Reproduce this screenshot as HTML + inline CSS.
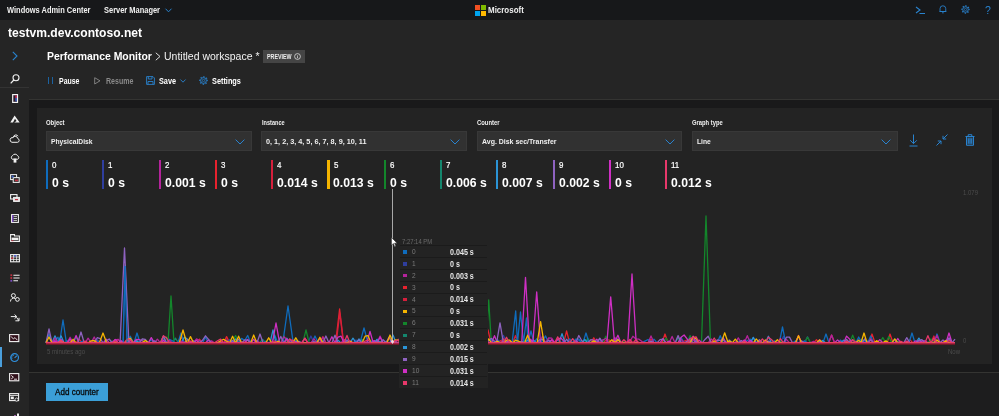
<!DOCTYPE html>
<html><head><meta charset="utf-8"><title>Windows Admin Center</title>
<style>
html,body{margin:0;padding:0;}
body{width:999px;height:416px;overflow:hidden;background:#252525;font-family:"Liberation Sans",sans-serif;position:relative;}
.t{position:absolute;white-space:nowrap;line-height:1;transform-origin:0 0;}
.b{position:absolute;}
svg{position:absolute;overflow:visible;}
#wrap{position:absolute;left:0;top:0;width:999px;height:416px;will-change:transform;filter:blur(0.32px);}
</style></head><body><div id="wrap">

<div class="b" style="left:-6px;top:-6px;width:1011px;height:428px;background:#252525"></div>
<div class="b" style="left:-6px;top:-6px;width:1011px;height:26px;background:#17181a"></div>
<div class="b" style="left:29px;top:99px;width:976px;height:1px;background:#343432"></div>
<div class="b" style="left:29px;top:100px;width:976px;height:322px;background:#19191a"></div>
<div class="b" style="left:37px;top:108.3px;width:955px;height:255.5px;background:#232323"></div>
<div class="b" style="left:29px;top:372.4px;width:976px;height:1px;background:#343432"></div>
<div class="b" style="left:29px;top:373.4px;width:976px;height:49px;background:#1d1d1e"></div>
<div class="b" style="left:-6px;top:86.5px;width:35px;height:1px;background:#333"></div>
<span class="t" style="left:7.00px;top:6.00px;font-size:8.5px;font-weight:700;color:#f0f0f0;transform:scaleX(0.8790);">Windows Admin Center</span>
<span class="t" style="left:104.00px;top:6.00px;font-size:8.5px;font-weight:700;color:#f0f0f0;transform:scaleX(0.8780);">Server Manager</span>
<svg style="left:165px;top:8px" width="7" height="5" viewBox="0 0 7 5"><path d="M0.5 0.7 L3.5 3.8 L6.5 0.7" fill="none" stroke="#2983cf" stroke-width="1"/></svg>
<div class="b" style="left:475px;top:5px;width:5.1px;height:5.1px;background:#f25022"></div>
<div class="b" style="left:480.9px;top:5px;width:5.1px;height:5.1px;background:#7fba00"></div>
<div class="b" style="left:475px;top:10.8px;width:5.1px;height:5.1px;background:#00a4ef"></div>
<div class="b" style="left:480.9px;top:10.8px;width:5.1px;height:5.1px;background:#ffb900"></div>
<span class="t" style="left:488.20px;top:5.88px;font-size:9px;font-weight:700;color:#f0f0f0;transform:scaleX(0.8839);">Microsoft</span>
<svg style="left:915px;top:6px" width="11" height="9" viewBox="0 0 11 9"><path d="M1 1 L5 4 L1 7 M4.5 7.5 H10" fill="none" stroke="#2983cf" stroke-width="1.1"/></svg>
<svg style="left:939.3px;top:5.3px" width="7.8" height="8.7" viewBox="0 0 9 10"><path d="M1.2 7.5 V4.2 A3.3 3.3 0 0 1 7.8 4.2 V7.5 Z M0.5 7.5 H8.5 M3.5 9 H5.5" fill="none" stroke="#2983cf" stroke-width="1"/></svg>
<svg style="left:961.4px;top:5px" width="9" height="9" viewBox="0 0 10 10"><circle cx="5" cy="5" r="4.08" fill="none" stroke="#2983cf" stroke-width="1.05" stroke-dasharray="1.539 1.667" transform="rotate(-11 5 5)"/><circle cx="5" cy="5" r="3.09" fill="none" stroke="#2983cf" stroke-width="1.05"/><circle cx="5" cy="5" r="1.26" fill="none" stroke="#2983cf" stroke-width="0.78"/></svg>
<span class="t" style="left:985.00px;top:4.91px;font-size:10.5px;font-weight:400;color:#2983cf;transform:scaleX(1.0000);">?</span>
<span class="t" style="left:8.30px;top:26.64px;font-size:12px;font-weight:700;color:#fff;transform:scaleX(1.0065);">testvm.dev.contoso.net</span>
<svg style="left:12px;top:51px" width="6" height="10" viewBox="0 0 6 10"><path d="M0.8 0.8 L5 5 L0.8 9.2" fill="none" stroke="#2983cf" stroke-width="1.1"/></svg>
<span class="t" style="left:46.50px;top:52.14px;font-size:10px;font-weight:700;color:#fff;transform:scaleX(1.0430);">Performance Monitor</span>
<svg style="left:155px;top:52px" width="6" height="9" viewBox="0 0 6 9"><path d="M0.8 0.8 L5 4.5 L0.8 8.2" fill="none" stroke="#ddd" stroke-width="1"/></svg>
<span class="t" style="left:163.50px;top:52.14px;font-size:10px;font-weight:400;color:#f2f2f2;transform:scaleX(1.0477);">Untitled workspace *</span>
<div class="b" style="left:263px;top:50px;width:42px;height:13px;background:#454545"></div>
<span class="t" style="left:267.40px;top:53.64px;font-size:6.8px;font-weight:700;color:#eee;transform:scaleX(0.7844);">PREVIEW</span>
<svg style="left:294px;top:53px" width="7" height="7" viewBox="0 0 7 7"><circle cx="3.5" cy="3.5" r="2.9" fill="none" stroke="#ddd" stroke-width="0.8"/><path d="M3.5 2 V2.6 M3.5 3.2 V5.2" stroke="#ddd" stroke-width="0.8"/></svg>
<div class="b" style="left:48.3px;top:77px;width:1.1px;height:7px;background:#1c62a0"></div>
<div class="b" style="left:51.5px;top:77px;width:1.1px;height:7px;background:#1c62a0"></div>
<span class="t" style="left:58.50px;top:76.89px;font-size:8.4px;font-weight:700;color:#fff;transform:scaleX(0.8283);">Pause</span>
<svg style="left:94px;top:77px" width="7" height="8" viewBox="0 0 7 8"><path d="M0.7 0.7 L6 3.8 L0.7 7 Z" fill="none" stroke="#888" stroke-width="0.9"/></svg>
<span class="t" style="left:105.50px;top:76.89px;font-size:8.4px;font-weight:700;color:#8a8a8a;transform:scaleX(0.8414);">Resume</span>
<svg style="left:146px;top:76px" width="9" height="9" viewBox="0 0 9 9"><path d="M0.6 0.6 H7 L8.4 2 V8.4 H0.6 Z M2.3 0.6 V3 H6 V0.6 M2 8.4 V5.5 H7 V8.4" fill="none" stroke="#2983cf" stroke-width="0.9"/></svg>
<span class="t" style="left:158.70px;top:76.89px;font-size:8.4px;font-weight:700;color:#fff;transform:scaleX(0.8716);">Save</span>
<svg style="left:180px;top:79px" width="6" height="4" viewBox="0 0 6 4"><path d="M0.4 0.5 L3 3.2 L5.6 0.5" fill="none" stroke="#2983cf" stroke-width="0.9"/></svg>
<svg style="left:199px;top:75.8px" width="9" height="9" viewBox="0 0 9 9"><circle cx="4.5" cy="4.5" r="3.81" fill="none" stroke="#2983cf" stroke-width="0.98" stroke-dasharray="1.436 1.556" transform="rotate(-11 4.5 4.5)"/><circle cx="4.5" cy="4.5" r="2.88" fill="none" stroke="#2983cf" stroke-width="0.98"/><circle cx="4.5" cy="4.5" r="1.17" fill="none" stroke="#2983cf" stroke-width="0.73"/></svg>
<span class="t" style="left:211.80px;top:76.89px;font-size:8.4px;font-weight:700;color:#fff;transform:scaleX(0.8751);">Settings</span>
<div class="b" style="left:46px;top:131.2px;width:206px;height:20px;background:#313131;box-sizing:border-box;border:1px solid #383838"></div>
<span class="t" style="left:46.00px;top:119.37px;font-size:7px;font-weight:700;color:#f0f0f0;transform:scaleX(0.8493);">Object</span>
<span class="t" style="left:51.00px;top:137.53px;font-size:8px;font-weight:700;color:#f0f0f0;transform:scaleX(0.8407);">PhysicalDisk</span>
<svg style="left:235px;top:139px" width="10" height="6" viewBox="0 0 10 6"><path d="M0.6 0.6 L5 5 L9.4 0.6" fill="none" stroke="#2983cf" stroke-width="1"/></svg>
<div class="b" style="left:261px;top:131.2px;width:206px;height:20px;background:#313131;box-sizing:border-box;border:1px solid #383838"></div>
<span class="t" style="left:261.80px;top:119.37px;font-size:7px;font-weight:700;color:#f0f0f0;transform:scaleX(0.7958);">Instance</span>
<span class="t" style="left:266.00px;top:137.53px;font-size:8px;font-weight:700;color:#f0f0f0;transform:scaleX(0.9075);">0, 1, 2, 3, 4, 5, 6, 7, 8, 9, 10, 11</span>
<svg style="left:450px;top:139px" width="10" height="6" viewBox="0 0 10 6"><path d="M0.6 0.6 L5 5 L9.4 0.6" fill="none" stroke="#2983cf" stroke-width="1"/></svg>
<div class="b" style="left:477px;top:131.2px;width:205px;height:20px;background:#313131;box-sizing:border-box;border:1px solid #383838"></div>
<span class="t" style="left:477.00px;top:119.37px;font-size:7px;font-weight:700;color:#f0f0f0;transform:scaleX(0.8386);">Counter</span>
<span class="t" style="left:481.70px;top:137.53px;font-size:8px;font-weight:700;color:#f0f0f0;transform:scaleX(0.8711);">Avg. Disk sec/Transfer</span>
<svg style="left:665px;top:139px" width="10" height="6" viewBox="0 0 10 6"><path d="M0.6 0.6 L5 5 L9.4 0.6" fill="none" stroke="#2983cf" stroke-width="1"/></svg>
<div class="b" style="left:692px;top:131.2px;width:206px;height:20px;background:#313131;box-sizing:border-box;border:1px solid #383838"></div>
<span class="t" style="left:692.30px;top:119.37px;font-size:7px;font-weight:700;color:#f0f0f0;transform:scaleX(0.8308);">Graph type</span>
<span class="t" style="left:697.20px;top:137.53px;font-size:8px;font-weight:700;color:#f0f0f0;transform:scaleX(0.8391);">Line</span>
<svg style="left:881px;top:139px" width="10" height="6" viewBox="0 0 10 6"><path d="M0.6 0.6 L5 5 L9.4 0.6" fill="none" stroke="#2983cf" stroke-width="1"/></svg>
<svg style="left:909px;top:134px" width="9" height="13" viewBox="0 0 9 13"><path d="M4.5 0.5 V9.5 M1.2 6.3 L4.5 9.6 L7.8 6.3 M0.5 12 H8.5" fill="none" stroke="#2983cf" stroke-width="1"/></svg>
<svg style="left:936px;top:134px" width="12" height="12" viewBox="0 0 12 12"><path d="M11.5 0.5 L7 5 M7 1.8 V5 H10.2 M0.5 11.5 L5 7 M1.8 7 H5 V10.2" fill="none" stroke="#2983cf" stroke-width="1"/></svg>
<svg style="left:965px;top:134px" width="10" height="12" viewBox="0 0 10 12"><path d="M0.5 2.5 H9.5 M3.2 2.3 V0.7 H6.8 V2.3 M1.5 2.5 V11.3 H8.5 V2.5 M3.8 4.5 V9.5 M6.2 4.5 V9.5" fill="none" stroke="#2983cf" stroke-width="1"/><rect x="2.3" y="3.5" width="5.4" height="7" fill="#2983cf" opacity="0.55"/></svg>
<div class="b" style="left:46.00px;top:160px;width:2.2px;height:28.5px;background:#0f6cbd"></div>
<span class="t" style="left:52.20px;top:162.26px;font-size:8.2px;font-weight:400;color:#fff;transform:scaleX(0.9700);-webkit-text-stroke:0.2px #fff;">0</span>
<span class="t" style="left:52.00px;top:176.62px;font-size:12.5px;font-weight:700;color:#fff;transform:scaleX(0.9750);">0 s</span>
<div class="b" style="left:102.28px;top:160px;width:2.2px;height:28.5px;background:#2f3e9e"></div>
<span class="t" style="left:108.48px;top:162.26px;font-size:8.2px;font-weight:400;color:#fff;transform:scaleX(0.9700);-webkit-text-stroke:0.2px #fff;">1</span>
<span class="t" style="left:108.28px;top:176.62px;font-size:12.5px;font-weight:700;color:#fff;transform:scaleX(0.9750);">0 s</span>
<div class="b" style="left:158.56px;top:160px;width:2.2px;height:28.5px;background:#b4239b"></div>
<span class="t" style="left:164.76px;top:162.26px;font-size:8.2px;font-weight:400;color:#fff;transform:scaleX(0.9700);-webkit-text-stroke:0.2px #fff;">2</span>
<span class="t" style="left:164.56px;top:176.62px;font-size:12.5px;font-weight:700;color:#fff;transform:scaleX(0.9750);">0.001 s</span>
<div class="b" style="left:214.84px;top:160px;width:2.2px;height:28.5px;background:#e8222e"></div>
<span class="t" style="left:221.04px;top:162.26px;font-size:8.2px;font-weight:400;color:#fff;transform:scaleX(0.9700);-webkit-text-stroke:0.2px #fff;">3</span>
<span class="t" style="left:220.84px;top:176.62px;font-size:12.5px;font-weight:700;color:#fff;transform:scaleX(0.9750);">0 s</span>
<div class="b" style="left:271.12px;top:160px;width:2.2px;height:28.5px;background:#d61f3c"></div>
<span class="t" style="left:277.32px;top:162.26px;font-size:8.2px;font-weight:400;color:#fff;transform:scaleX(0.9700);-webkit-text-stroke:0.2px #fff;">4</span>
<span class="t" style="left:277.12px;top:176.62px;font-size:12.5px;font-weight:700;color:#fff;transform:scaleX(0.9750);">0.014 s</span>
<div class="b" style="left:327.40px;top:160px;width:2.2px;height:28.5px;background:#f5b400"></div>
<span class="t" style="left:333.60px;top:162.26px;font-size:8.2px;font-weight:400;color:#fff;transform:scaleX(0.9700);-webkit-text-stroke:0.2px #fff;">5</span>
<span class="t" style="left:333.40px;top:176.62px;font-size:12.5px;font-weight:700;color:#fff;transform:scaleX(0.9750);">0.013 s</span>
<div class="b" style="left:383.68px;top:160px;width:2.2px;height:28.5px;background:#13862b"></div>
<span class="t" style="left:389.88px;top:162.26px;font-size:8.2px;font-weight:400;color:#fff;transform:scaleX(0.9700);-webkit-text-stroke:0.2px #fff;">6</span>
<span class="t" style="left:389.68px;top:176.62px;font-size:12.5px;font-weight:700;color:#fff;transform:scaleX(0.9750);">0 s</span>
<div class="b" style="left:439.96px;top:160px;width:2.2px;height:28.5px;background:#14866d"></div>
<span class="t" style="left:446.16px;top:162.26px;font-size:8.2px;font-weight:400;color:#fff;transform:scaleX(0.9700);-webkit-text-stroke:0.2px #fff;">7</span>
<span class="t" style="left:445.96px;top:176.62px;font-size:12.5px;font-weight:700;color:#fff;transform:scaleX(0.9750);">0.006 s</span>
<div class="b" style="left:496.24px;top:160px;width:2.2px;height:28.5px;background:#2b94d6"></div>
<span class="t" style="left:502.44px;top:162.26px;font-size:8.2px;font-weight:400;color:#fff;transform:scaleX(0.9700);-webkit-text-stroke:0.2px #fff;">8</span>
<span class="t" style="left:502.24px;top:176.62px;font-size:12.5px;font-weight:700;color:#fff;transform:scaleX(0.9750);">0.007 s</span>
<div class="b" style="left:552.52px;top:160px;width:2.2px;height:28.5px;background:#8e62c0"></div>
<span class="t" style="left:558.72px;top:162.26px;font-size:8.2px;font-weight:400;color:#fff;transform:scaleX(0.9700);-webkit-text-stroke:0.2px #fff;">9</span>
<span class="t" style="left:558.52px;top:176.62px;font-size:12.5px;font-weight:700;color:#fff;transform:scaleX(0.9750);">0.002 s</span>
<div class="b" style="left:608.80px;top:160px;width:2.2px;height:28.5px;background:#cf2fc4"></div>
<span class="t" style="left:615.00px;top:162.26px;font-size:8.2px;font-weight:400;color:#fff;transform:scaleX(0.9700);-webkit-text-stroke:0.2px #fff;">10</span>
<span class="t" style="left:614.80px;top:176.62px;font-size:12.5px;font-weight:700;color:#fff;transform:scaleX(0.9750);">0 s</span>
<div class="b" style="left:665.08px;top:160px;width:2.2px;height:28.5px;background:#e8386b"></div>
<span class="t" style="left:671.28px;top:162.26px;font-size:8.2px;font-weight:400;color:#fff;transform:scaleX(0.9700);-webkit-text-stroke:0.2px #fff;">11</span>
<span class="t" style="left:671.08px;top:176.62px;font-size:12.5px;font-weight:700;color:#fff;transform:scaleX(0.9750);">0.012 s</span>
<svg style="left:0;top:0" width="999" height="416" viewBox="0 0 999 416"><defs><clipPath id="cp"><rect x="40" y="180" width="920" height="162.9"/></clipPath></defs><g clip-path="url(#cp)">
<polyline points="46.0,342.8 49.0,343.0 52.0,343.0 55.0,343.0 58.0,342.9 61.0,342.8 64.1,342.9 67.1,342.9 70.1,342.9 73.1,342.9 76.1,343.0 79.1,342.8 82.1,342.9 85.1,342.9 88.1,342.9 91.1,342.8 94.2,343.0 97.2,339.6 100.2,342.9 103.2,343.0 106.2,342.8 109.2,342.8 112.2,342.9 115.2,343.0 118.2,342.8 121.2,342.8 124.3,342.8 127.3,342.9 130.3,339.4 133.3,342.8 136.3,342.9 139.3,342.9 142.3,342.8 145.3,343.0 148.3,342.9 151.3,342.9 154.4,343.0 157.4,342.9 160.4,342.8 163.4,342.9 166.4,342.9 169.4,342.8 172.4,343.0 175.4,342.8 178.4,342.9 181.4,342.8 184.5,343.0 187.5,342.9 190.5,343.0 193.5,342.8 196.5,342.9 199.5,342.9 202.5,342.9 205.5,342.8 208.5,342.8 211.5,343.0 214.6,342.9 217.6,342.8 220.6,342.9 223.6,342.8 226.6,343.0 229.6,342.9 232.6,342.8 235.6,342.8 238.6,342.9 241.6,342.8 244.7,343.0 247.7,342.9 250.7,342.9 253.7,343.0 256.7,342.9 259.7,343.0 262.7,342.9 265.7,342.8 268.7,342.9 271.7,342.9 274.8,342.8 277.8,342.9 280.8,343.0 283.8,342.8 286.8,343.0 289.8,341.3 292.8,342.9 295.8,342.8 298.8,342.9 301.8,342.8 304.9,342.8 307.9,342.9 310.9,336.0 313.9,342.8 316.9,343.0 319.9,342.9 322.9,342.8 325.9,342.9 328.9,342.9 331.9,343.0 335.0,342.8 338.0,342.8 341.0,342.9 344.0,342.9 347.0,343.0 350.0,342.8 353.0,343.0 356.0,340.0 359.0,342.8 362.0,342.8 365.1,343.0 368.1,342.9 371.1,342.9 374.1,342.9 377.1,342.8 380.1,342.8 383.1,343.0 386.1,342.9 389.1,342.9 392.1,343.0 395.2,342.9 398.2,342.8 401.2,342.9 404.2,342.8 407.2,342.9 410.2,342.8 413.2,343.0 416.2,342.8 419.2,342.8 422.2,340.7 425.3,343.0 428.3,342.9 431.3,342.9 434.3,342.9 437.3,342.8 440.3,343.0 443.3,342.8 446.3,342.9 449.3,342.9 452.3,342.9 455.4,342.9 458.4,337.7 461.4,343.0 464.4,342.9 467.4,342.9 470.4,343.0 473.4,342.9 476.4,343.0 479.4,342.8 482.4,342.9 485.5,342.8 488.5,342.9 491.5,342.9 494.5,342.8 497.5,343.0 500.5,342.9 503.5,335.4 506.5,342.8 509.5,342.8 512.5,343.0 515.5,340.0 518.6,342.8 521.6,342.8 524.6,342.9 527.6,342.9 530.6,342.8 533.6,342.9 536.6,342.8 539.6,343.0 542.6,342.8 545.6,343.0 548.7,342.9 551.7,342.8 554.7,343.0 557.7,342.9 560.7,342.8 563.7,343.0 566.7,342.9 569.7,342.9 572.7,342.9 575.7,342.8 578.8,340.0 581.8,343.0 584.8,343.0 587.8,342.9 590.8,342.9 593.8,342.9 596.8,342.8 599.8,342.9 602.8,339.8 605.8,342.9 608.9,342.8 611.9,343.0 614.9,343.0 617.9,342.9 620.9,342.9 623.9,343.0 626.9,343.0 629.9,342.8 632.9,343.0 635.9,342.9 639.0,343.0 642.0,342.8 645.0,342.8 648.0,342.8 651.0,342.8 654.0,343.0 657.0,342.8 660.0,342.9 663.0,343.0 666.0,342.9 669.1,343.0 672.1,342.8 675.1,342.9 678.1,342.9 681.1,341.0 684.1,342.8 687.1,342.8 690.1,342.8 693.1,342.9 696.1,342.9 699.2,342.9 702.2,342.8 705.2,342.8 708.2,342.9 711.2,342.9 714.2,342.9 717.2,342.8 720.2,343.0 723.2,343.0 726.2,342.9 729.3,342.8 732.3,342.8 735.3,343.0 738.3,341.1 741.3,342.9 744.3,342.8 747.3,342.9 750.3,343.0 753.3,337.6 756.3,342.9 759.4,342.9 762.4,342.9 765.4,342.9 768.4,342.8 771.4,343.0 774.4,342.8 777.4,342.8 780.4,342.9 783.4,336.4 786.4,342.9 789.5,342.9 792.5,342.8 795.5,342.8 798.5,342.9 801.5,342.9 804.5,342.8 807.5,336.8 810.5,343.0 813.5,342.8 816.5,342.8 819.6,343.0 822.6,342.9 825.6,342.8 828.6,342.8 831.6,335.6 834.6,342.9 837.6,342.9 840.6,343.0 843.6,343.0 846.6,342.8 849.7,342.8 852.7,342.9 855.7,342.9 858.7,342.9 861.7,342.8 864.7,342.9 867.7,343.0 870.7,342.9 873.7,342.8 876.7,342.9 879.8,342.9 882.8,342.8 885.8,342.8 888.8,342.8 891.8,342.8 894.8,342.8 897.8,342.8 900.8,342.9 903.8,342.8 906.8,342.8 909.9,343.0 912.9,342.8 915.9,343.0 918.9,341.4 921.9,342.8 924.9,342.8 927.9,342.9 930.9,342.8 933.9,342.8 936.9,342.8 940.0,342.8 943.0,342.9 946.0,343.0 949.0,342.8 952.0,342.8 955.0,342.9" fill="none" stroke="#2f3e9e" stroke-width="1.3" stroke-linejoin="round"/>
<polyline points="46.0,342.8 49.0,343.0 52.0,342.8 55.0,343.0 58.0,342.9 61.0,342.9 64.1,342.8 67.1,342.8 70.1,342.9 73.1,342.8 76.1,337.1 79.1,342.8 82.1,343.0 85.1,342.8 88.1,342.9 91.1,342.9 94.2,342.8 97.2,342.9 100.2,342.9 103.2,342.8 106.2,342.9 109.2,342.9 112.2,341.1 115.2,342.9 118.2,342.9 121.2,342.9 124.3,342.8 127.3,343.0 130.3,343.0 133.3,343.0 136.3,342.8 139.3,342.8 142.3,342.8 145.3,342.8 148.3,342.8 151.3,342.9 154.4,342.8 157.4,342.8 160.4,343.0 163.4,336.9 166.4,342.9 169.4,341.5 172.4,342.8 175.4,338.1 178.4,342.8 181.4,343.0 184.5,342.8 187.5,343.0 190.5,342.9 193.5,342.9 196.5,342.9 199.5,341.3 202.5,343.0 205.5,342.8 208.5,342.8 211.5,342.9 214.6,343.0 217.6,342.9 220.6,341.1 223.6,342.9 226.6,342.9 229.6,342.8 232.6,342.9 235.6,342.8 238.6,342.8 241.6,343.0 244.7,342.9 247.7,343.0 250.7,343.0 253.7,342.9 256.7,342.9 259.7,342.8 262.7,339.5 265.7,342.9 268.7,342.8 271.7,342.8 274.8,342.9 277.8,342.9 280.8,342.9 283.8,342.8 286.8,342.8 289.8,342.9 292.8,342.8 295.8,339.9 298.8,343.0 301.8,343.0 304.9,342.8 307.9,343.0 310.9,342.9 313.9,342.9 316.9,342.9 319.9,343.0 322.9,340.5 325.9,342.9 328.9,342.9 331.9,342.9 335.0,342.8 338.0,342.9 341.0,342.8 344.0,343.0 347.0,342.8 350.0,343.0 353.0,342.8 356.0,342.9 359.0,342.9 362.0,339.5 365.1,342.9 368.1,342.9 371.1,342.8 374.1,340.7 377.1,343.0 380.1,343.0 383.1,342.9 386.1,343.0 389.1,342.8 392.1,342.9 395.2,342.9 398.2,343.0 401.2,342.8 404.2,342.8 407.2,342.8 410.2,342.9 413.2,342.8 416.2,343.0 419.2,342.8 422.2,342.8 425.3,342.9 428.3,342.9 431.3,343.0 434.3,342.9 437.3,342.8 440.3,343.0 443.3,342.8 446.3,342.9 449.3,335.9 452.3,342.8 455.4,342.9 458.4,342.8 461.4,342.9 464.4,342.9 467.4,343.0 470.4,342.8 473.4,342.8 476.4,342.8 479.4,342.8 482.4,342.8 485.5,342.8 488.5,342.9 491.5,342.9 494.5,343.0 497.5,342.9 500.5,342.9 503.5,342.8 506.5,343.0 509.5,342.8 512.5,342.8 515.5,339.2 518.6,342.9 521.6,342.8 524.6,342.8 527.6,342.9 530.6,343.0 533.6,343.0 536.6,342.9 539.6,341.3 542.6,343.0 545.6,342.9 548.7,342.8 551.7,342.8 554.7,342.9 557.7,342.8 560.7,342.8 563.7,343.0 566.7,342.8 569.7,342.9 572.7,342.8 575.7,342.9 578.8,342.9 581.8,342.8 584.8,342.8 587.8,339.9 590.8,342.8 593.8,343.0 596.8,342.8 599.8,342.9 602.8,342.8 605.8,342.9 608.9,342.8 611.9,342.9 614.9,342.8 617.9,342.9 620.9,342.8 623.9,342.9 626.9,342.8 629.9,342.8 632.9,342.9 635.9,343.0 639.0,342.9 642.0,342.8 645.0,342.8 648.0,343.0 651.0,342.8 654.0,342.8 657.0,342.8 660.0,343.0 663.0,342.8 666.0,342.8 669.1,342.9 672.1,342.9 675.1,343.0 678.1,337.6 681.1,342.8 684.1,342.9 687.1,343.0 690.1,342.8 693.1,342.9 696.1,342.8 699.2,342.8 702.2,342.8 705.2,343.0 708.2,342.9 711.2,343.0 714.2,342.8 717.2,342.9 720.2,342.8 723.2,342.8 726.2,343.0 729.3,342.9 732.3,342.9 735.3,342.9 738.3,343.0 741.3,342.9 744.3,342.9 747.3,342.8 750.3,342.8 753.3,343.0 756.3,343.0 759.4,343.0 762.4,342.8 765.4,342.9 768.4,342.9 771.4,342.9 774.4,342.8 777.4,343.0 780.4,342.8 783.4,342.8 786.4,342.9 789.5,342.9 792.5,342.8 795.5,342.8 798.5,342.9 801.5,342.8 804.5,342.8 807.5,342.8 810.5,342.9 813.5,343.0 816.5,342.8 819.6,340.6 822.6,342.9 825.6,342.8 828.6,342.9 831.6,342.8 834.6,342.9 837.6,342.8 840.6,342.9 843.6,342.9 846.6,342.8 849.7,342.9 852.7,342.8 855.7,342.8 858.7,341.0 861.7,339.3 864.7,342.9 867.7,340.8 870.7,342.8 873.7,342.8 876.7,342.8 879.8,342.8 882.8,343.0 885.8,342.8 888.8,343.0 891.8,342.8 894.8,342.8 897.8,341.3 900.8,343.0 903.8,342.8 906.8,343.0 909.9,342.8 912.9,342.8 915.9,342.8 918.9,342.9 921.9,342.9 924.9,342.8 927.9,343.0 930.9,343.0 933.9,342.8 936.9,340.1 940.0,343.0 943.0,342.8 946.0,342.9 949.0,342.8 952.0,342.9 955.0,342.8" fill="none" stroke="#14866d" stroke-width="1.3" stroke-linejoin="round"/>
<polyline points="46.0,342.9 49.0,343.0 52.0,343.0 55.0,342.9 58.0,342.8 61.0,342.9 64.1,342.9 67.1,342.9 70.1,342.9 73.1,342.8 76.1,342.8 79.1,339.1 82.1,342.9 85.1,342.9 88.1,342.9 91.1,342.8 94.2,342.8 97.2,342.9 100.2,343.0 103.2,342.9 106.2,343.0 109.2,342.9 112.2,343.0 115.2,342.9 118.2,342.9 121.2,342.9 124.3,343.0 127.3,342.8 130.3,343.0 133.3,343.0 136.3,342.9 139.3,342.9 142.3,342.8 145.3,342.9 148.3,343.0 151.3,342.9 154.4,343.0 157.4,342.9 160.4,342.8 163.4,343.0 166.4,342.9 169.4,342.9 172.4,342.8 175.4,343.0 178.4,342.9 181.4,336.9 184.5,342.9 187.5,342.8 190.5,342.8 193.5,342.8 196.5,342.8 199.5,339.1 202.5,342.9 205.5,342.9 208.5,343.0 211.5,342.9 214.6,343.0 217.6,342.8 220.6,341.2 223.6,343.0 226.6,336.6 229.6,342.9 232.6,343.0 235.6,342.8 238.6,341.2 241.6,342.9 244.7,343.0 247.7,343.0 250.7,342.8 253.7,342.9 256.7,343.0 259.7,342.8 262.7,342.9 265.7,342.9 268.7,342.8 271.7,342.9 274.8,342.9 277.8,342.8 280.8,342.8 283.8,342.8 286.8,340.1 289.8,342.8 292.8,342.9 295.8,342.9 298.8,343.0 301.8,342.9 304.9,338.4 307.9,342.8 310.9,342.8 313.9,342.8 316.9,343.0 319.9,342.9 322.9,342.9 325.9,342.8 328.9,342.9 331.9,342.9 335.0,342.9 335.6,342.8 339.6,309.0 343.6,342.8 347.0,342.9 350.0,343.0 353.0,343.0 356.0,342.9 359.0,342.9 362.0,342.9 365.1,342.8 368.1,342.8 371.1,342.8 374.1,342.9 377.1,342.9 380.1,342.9 383.1,342.9 386.1,342.9 389.1,337.6 392.1,342.9 395.2,342.9 398.2,342.8 401.2,342.8 404.2,343.0 407.2,342.9 410.2,340.5 413.2,342.8 416.2,342.9 419.2,342.8 422.2,342.9 425.3,342.8 428.3,342.8 431.3,342.9 434.3,342.8 437.3,342.9 440.3,342.8 443.3,343.0 446.3,343.0 449.3,342.9 452.3,342.8 455.4,342.9 458.4,342.8 461.4,342.9 464.4,342.9 467.4,342.9 470.4,342.9 473.4,342.9 476.4,342.8 479.4,342.9 482.4,342.9 485.0,342.8 488.0,330.0 491.0,342.8 494.5,342.8 497.5,342.9 500.5,342.8 503.5,338.8 506.5,342.9 509.5,342.8 512.5,342.8 515.5,342.9 518.6,342.9 521.6,342.9 524.6,342.8 527.6,342.9 530.6,342.9 533.6,342.9 536.6,342.8 539.6,342.9 542.6,342.8 545.6,342.9 548.7,342.8 551.7,342.9 554.7,342.8 557.7,343.0 560.7,342.8 563.6,342.8 566.6,331.0 569.6,342.8 572.7,342.9 575.7,343.0 578.8,342.8 581.8,342.8 584.8,343.0 587.8,342.8 590.8,342.8 593.8,337.8 596.8,342.9 599.8,343.0 602.8,342.9 605.8,342.8 608.9,342.8 611.9,342.9 614.9,343.0 617.9,343.0 620.9,343.0 623.9,342.8 626.9,342.8 629.9,341.5 632.9,342.9 635.9,342.9 639.0,342.9 642.0,342.8 645.0,342.9 648.0,342.9 651.0,339.1 654.0,342.8 657.0,342.8 660.0,343.0 662.0,342.8 665.0,334.0 668.0,342.8 669.1,342.9 672.1,342.8 675.1,342.8 678.1,342.9 681.1,342.9 684.1,342.8 687.1,342.8 690.1,343.0 693.1,343.0 696.1,342.9 699.2,343.0 702.2,342.9 705.2,343.0 708.2,342.8 711.2,342.9 714.2,342.9 717.2,343.0 720.2,342.9 723.2,342.8 726.2,342.9 729.3,343.0 732.3,342.8 735.3,343.0 738.3,342.8 741.3,342.8 744.3,342.8 747.3,342.9 750.3,343.0 753.3,342.9 756.3,342.9 759.4,342.9 762.4,342.9 765.4,343.0 768.4,342.9 771.4,342.8 774.4,342.8 777.4,342.9 780.4,343.0 783.4,342.8 786.4,342.8 789.5,342.9 792.5,342.9 795.5,343.0 798.5,342.9 801.5,342.8 804.5,342.9 807.5,342.8 810.5,342.8 813.5,342.9 816.5,339.7 819.6,342.9 822.6,342.8 825.6,342.9 828.6,342.9 831.6,343.0 834.6,342.8 837.6,342.8 840.6,341.4 843.6,343.0 846.6,342.9 849.7,340.7 852.7,343.0 855.7,342.9 858.7,342.9 861.7,342.8 864.7,343.0 867.7,342.8 869.0,342.8 872.0,334.0 875.0,342.8 876.7,340.8 879.8,342.8 882.8,342.8 885.8,343.0 887.0,342.8 890.0,334.0 893.0,342.8 894.8,343.0 897.8,342.9 900.8,342.8 903.8,342.8 906.8,342.9 909.9,339.6 912.9,342.9 915.9,343.0 918.9,343.0 921.9,342.8 924.9,342.9 927.9,342.8 930.9,342.9 933.9,340.5 936.9,342.9 940.0,343.0 943.0,342.8 946.0,342.9 949.0,342.9 952.0,342.9 955.0,342.8" fill="none" stroke="#e8222e" stroke-width="1.3" stroke-linejoin="round"/>
<polyline points="46.0,342.9 49.0,342.8 52.0,342.8 55.0,342.8 58.0,342.9 61.0,342.8 64.1,342.9 67.1,342.9 70.1,340.7 73.1,342.8 76.1,343.0 79.1,342.9 82.1,343.0 85.1,343.0 88.1,342.8 91.1,342.8 94.2,342.9 97.2,342.9 100.2,343.0 103.2,343.0 106.2,342.8 109.2,342.8 112.2,342.9 115.2,343.0 118.2,339.4 121.2,342.9 124.3,342.8 127.3,342.8 130.3,342.8 133.3,342.8 136.3,343.0 139.3,342.9 142.3,342.9 145.3,342.8 148.3,343.0 151.3,342.8 154.4,342.8 157.4,342.8 160.4,342.9 163.4,342.9 166.4,343.0 169.4,343.0 172.4,342.8 175.4,343.0 178.4,343.0 181.4,343.0 184.5,342.8 187.5,342.9 190.5,342.8 193.5,342.9 196.5,342.9 199.5,342.8 202.5,343.0 205.5,342.9 208.5,342.9 211.5,343.0 214.6,342.9 217.6,342.8 220.6,342.8 223.6,342.8 226.6,343.0 229.6,342.8 232.6,342.9 235.6,342.9 238.6,342.9 241.6,342.8 244.7,341.0 247.7,342.9 250.7,342.8 253.7,342.9 256.7,342.9 259.7,342.9 262.7,343.0 265.7,342.9 268.7,342.8 271.7,343.0 274.8,342.9 277.8,342.9 280.8,342.9 283.8,342.9 286.8,343.0 289.8,343.0 292.8,342.8 295.8,342.8 298.8,343.0 301.8,342.8 304.9,342.8 307.9,343.0 310.9,342.9 313.9,343.0 316.9,343.0 319.9,342.9 322.9,336.6 325.9,342.9 328.9,342.9 331.9,342.8 335.0,342.9 336.2,342.8 339.8,313.0 343.4,342.8 344.0,342.8 347.0,342.8 350.0,342.9 353.0,342.8 356.0,343.0 359.0,343.0 362.0,342.8 365.1,342.8 368.1,342.9 371.1,342.9 374.1,342.9 377.1,343.0 380.1,342.8 383.1,342.9 386.1,342.8 389.1,343.0 392.1,342.9 395.2,342.8 398.2,343.0 401.2,343.0 404.2,342.8 407.2,343.0 410.2,342.8 413.2,342.9 416.2,343.0 419.2,342.9 422.2,342.8 425.3,342.9 428.3,342.8 431.3,343.0 434.3,342.9 437.3,342.9 440.3,342.9 443.3,336.7 446.3,343.0 449.3,342.8 452.3,341.1 455.4,342.9 458.4,342.9 461.4,342.9 464.4,342.8 467.4,343.0 470.4,342.8 473.4,342.8 476.4,342.8 479.4,342.9 482.4,342.8 485.5,342.8 488.5,342.8 491.5,342.9 494.5,342.9 497.5,342.9 500.5,340.6 503.5,342.8 506.5,342.9 509.5,342.9 512.5,343.0 515.5,335.5 518.6,342.9 521.6,342.9 524.6,343.0 527.6,342.9 530.6,342.9 533.6,342.9 536.6,342.9 539.6,343.0 542.6,342.8 545.6,342.8 548.7,342.8 551.7,340.2 554.7,342.9 557.7,343.0 560.7,342.9 563.7,342.9 566.7,342.9 569.7,342.8 572.7,343.0 575.7,342.8 578.8,343.0 581.8,342.8 584.8,343.0 587.8,342.9 590.8,342.8 593.8,342.9 596.8,342.8 599.8,342.9 602.8,342.9 605.8,340.4 608.9,339.8 611.9,342.9 614.9,342.9 617.9,343.0 620.9,342.9 623.9,343.0 626.9,342.8 629.9,343.0 632.9,343.0 635.9,343.0 639.0,342.9 642.0,342.9 645.0,342.8 648.0,342.9 651.0,342.9 654.0,342.8 657.0,342.9 660.0,342.8 663.0,342.9 666.0,342.8 669.1,343.0 672.1,342.8 675.1,342.9 678.1,342.9 681.1,343.0 684.1,341.1 687.1,340.1 690.1,343.0 693.1,342.9 696.1,343.0 699.2,342.8 702.2,343.0 705.2,342.9 708.2,342.9 711.2,342.9 714.2,342.9 717.2,342.8 720.2,342.8 723.2,339.8 726.2,342.8 729.3,340.0 732.3,342.8 735.3,342.8 738.3,342.9 741.3,342.9 744.3,342.9 747.3,342.8 750.3,342.8 753.3,342.9 756.3,342.8 759.4,342.9 762.4,342.8 765.4,342.9 768.4,342.8 771.4,342.8 774.4,342.9 777.4,342.8 780.4,342.8 783.4,342.8 786.4,343.0 789.5,342.8 792.5,343.0 795.5,342.8 798.5,335.4 801.5,342.8 804.5,343.0 807.5,343.0 810.5,342.8 813.5,342.8 816.5,343.0 819.6,342.8 822.6,343.0 825.6,342.9 828.6,343.0 831.6,335.0 834.6,342.8 837.6,342.9 840.6,342.9 843.6,342.8 846.6,342.8 849.7,343.0 852.7,342.9 855.7,342.9 858.7,342.8 861.7,342.8 864.7,343.0 867.7,343.0 870.7,340.1 873.7,342.9 876.7,343.0 879.8,342.8 882.8,342.9 885.8,342.8 888.8,342.8 891.8,342.9 894.8,342.8 897.8,342.9 900.8,343.0 903.8,343.0 906.8,342.8 909.9,342.8 912.9,342.9 915.9,343.0 918.9,342.8 921.9,343.0 924.9,342.9 927.9,342.9 930.9,342.8 933.9,336.0 936.9,342.9 940.0,342.8 943.0,342.8 946.0,342.9 949.0,342.9 952.0,342.8 955.0,342.9" fill="none" stroke="#d61f3c" stroke-width="1.3" stroke-linejoin="round"/>
<polyline points="46.0,342.8 49.0,342.9 52.0,342.9 55.0,342.8 58.0,342.9 61.0,342.8 64.1,342.9 67.1,340.4 70.1,342.8 73.1,342.9 76.1,342.9 79.1,342.8 82.1,342.8 85.1,342.8 88.1,342.9 91.1,342.8 94.2,342.8 97.2,342.8 100.2,342.8 103.2,342.8 106.2,343.0 109.2,342.8 112.2,342.9 115.2,343.0 118.2,342.8 121.2,342.9 124.3,343.0 127.3,342.9 130.3,336.5 133.3,342.9 136.3,340.3 139.3,342.8 142.3,339.3 145.3,342.9 148.3,342.9 151.3,342.9 154.4,342.8 157.4,342.8 160.4,342.9 163.4,339.4 166.4,337.0 168.0,342.8 171.0,296.0 174.0,342.8 175.4,342.9 178.4,342.9 181.4,342.8 184.5,342.8 187.5,342.9 190.5,343.0 193.5,343.0 196.5,342.8 199.5,342.9 202.5,343.0 205.5,342.9 208.5,342.8 211.5,342.9 214.6,342.8 217.6,342.9 220.6,342.8 223.6,342.8 226.6,342.8 229.6,342.8 232.6,340.9 235.6,335.5 238.6,342.8 241.6,342.9 244.7,342.8 247.7,342.9 250.7,341.0 253.7,342.8 256.7,342.9 259.7,343.0 262.7,342.8 265.7,342.8 268.7,342.8 271.7,342.8 274.8,343.0 277.8,342.9 280.8,342.9 283.8,335.4 286.8,342.8 289.8,342.9 292.8,342.9 295.8,342.8 298.8,343.0 301.8,342.9 302.8,342.8 306.0,330.0 309.2,342.8 310.9,343.0 313.9,342.9 316.9,340.6 319.9,342.8 322.9,342.8 325.9,342.9 328.9,342.9 331.9,342.9 335.0,343.0 338.0,342.9 341.0,342.8 344.0,343.0 347.0,343.0 350.0,342.9 353.0,342.8 356.0,342.8 359.0,342.9 362.0,342.8 365.1,343.0 368.1,342.8 371.1,342.9 374.1,342.8 377.1,342.8 380.1,341.2 383.1,342.8 386.1,341.4 389.1,342.8 392.1,342.8 395.2,342.8 398.2,342.9 401.2,343.0 404.2,343.0 407.2,342.8 410.2,342.8 413.2,342.9 416.2,342.8 419.2,342.8 422.2,335.6 425.3,342.8 428.3,342.8 431.3,342.8 434.3,341.4 437.3,342.9 440.3,343.0 443.3,343.0 446.3,342.8 449.3,343.0 452.3,342.9 455.4,343.0 458.4,342.9 461.4,343.0 464.4,342.8 467.4,343.0 470.4,342.9 473.4,343.0 476.4,342.8 479.4,343.0 482.4,341.2 485.5,342.9 486.1,342.8 488.7,300.0 491.3,342.8 494.5,342.8 497.5,342.8 500.5,342.8 503.5,343.0 506.5,342.8 509.5,342.8 512.5,342.8 515.5,342.8 518.6,342.9 521.6,342.9 524.6,340.3 527.6,342.8 530.6,342.8 533.6,342.8 536.6,342.9 539.6,342.9 542.6,338.1 545.6,342.8 548.7,342.8 551.7,342.8 554.7,342.9 557.7,342.8 560.7,342.8 563.7,342.9 566.7,343.0 569.7,342.8 572.7,342.8 575.7,342.8 578.8,342.8 581.8,340.9 584.8,342.8 587.8,338.0 590.8,342.8 593.8,342.9 596.8,342.8 599.8,342.8 602.8,342.9 605.8,336.2 608.9,342.9 611.9,342.8 614.9,342.8 617.9,342.8 620.9,343.0 623.9,341.5 626.9,343.0 629.9,342.9 632.9,342.8 635.9,342.8 639.0,343.0 642.0,342.9 645.0,342.9 648.0,343.0 651.0,342.9 654.0,343.0 657.0,342.9 660.0,342.8 663.0,342.9 666.0,338.2 669.1,343.0 672.1,342.9 675.1,343.0 678.1,343.0 681.1,342.9 684.1,342.9 687.1,343.0 690.1,335.6 693.1,342.8 696.1,342.8 699.2,342.8 701.5,342.8 706.0,216.0 710.5,342.8 711.2,342.9 714.2,342.9 717.2,342.9 720.2,342.9 723.2,342.9 726.2,343.0 729.3,342.8 732.3,343.0 735.3,343.0 738.3,342.8 741.3,341.2 744.3,343.0 747.3,342.9 750.3,343.0 753.3,342.9 756.3,342.9 759.4,340.9 762.4,342.9 765.4,342.8 768.4,343.0 771.4,342.9 774.4,343.0 777.4,342.9 780.4,340.8 783.4,342.9 786.4,343.0 789.5,342.9 792.5,342.8 795.5,343.0 798.5,342.9 801.5,343.0 804.5,342.9 807.5,337.1 810.5,342.9 813.5,342.9 816.5,342.8 819.6,342.8 822.6,342.8 825.6,342.9 828.6,343.0 831.6,342.9 834.6,343.0 837.6,343.0 840.6,343.0 843.6,342.8 846.6,342.8 849.7,342.8 852.7,335.2 855.7,342.9 858.7,342.8 861.7,342.8 864.7,342.9 867.7,342.9 870.7,342.9 873.7,342.8 876.7,342.9 879.8,342.8 882.8,337.5 885.8,342.8 888.8,336.6 891.8,342.9 894.8,342.8 897.8,342.9 900.8,342.8 903.8,343.0 906.8,342.9 909.9,343.0 912.9,343.0 915.9,342.9 918.9,342.8 921.9,342.8 924.9,342.9 927.9,342.9 930.9,339.0 933.9,343.0 936.9,342.9 940.0,342.8 943.0,342.9 946.0,342.8 949.0,342.9 952.0,342.9 955.0,342.9" fill="none" stroke="#13862b" stroke-width="1.3" stroke-linejoin="round"/>
<polyline points="46.0,342.8 49.0,334.0 52.0,342.8 55.0,340.1 58.0,337.3 59.6,342.8 63.0,320.0 66.4,342.8 67.1,340.9 70.1,342.8 73.1,342.9 76.1,343.0 79.1,342.9 82.1,341.2 85.1,342.8 88.1,342.9 91.1,342.9 94.2,343.0 97.2,340.9 100.2,342.9 103.2,342.9 106.2,342.9 109.2,342.8 112.2,342.9 115.2,342.8 118.2,342.9 121.2,343.0 123.1,342.8 125.1,266.0 127.1,342.8 130.3,336.3 133.3,342.9 134.0,342.8 137.0,333.0 140.0,342.8 142.3,342.9 145.3,342.8 148.3,342.8 151.3,339.6 154.4,342.8 157.4,342.9 160.4,342.8 163.4,337.2 166.4,343.0 169.4,339.4 172.4,340.8 175.4,342.8 178.0,342.8 181.0,333.0 184.0,342.8 187.5,342.9 190.5,342.8 193.5,343.0 196.5,342.9 199.5,342.9 202.5,342.9 205.5,337.3 208.5,342.9 211.5,342.8 214.6,342.8 217.6,343.0 220.6,342.8 223.6,342.8 226.6,342.9 229.6,339.8 232.6,341.3 235.6,343.0 238.6,343.0 241.6,338.4 244.7,340.5 247.7,335.5 250.7,343.0 253.7,342.9 256.7,343.0 259.7,342.8 262.7,342.9 265.7,341.2 268.7,342.9 271.7,343.0 274.8,335.2 277.8,343.0 280.8,343.0 282.8,342.8 288.0,306.0 293.2,342.8 295.8,342.8 298.8,342.9 301.8,342.8 304.9,342.8 307.9,342.8 310.9,342.9 312.0,342.8 315.0,336.0 318.0,342.8 319.9,342.8 322.9,342.9 325.9,342.8 328.9,342.9 331.9,342.9 335.0,342.9 338.0,342.8 341.0,342.9 344.0,342.8 347.0,339.7 350.0,342.8 353.0,342.9 356.0,342.8 359.0,342.8 360.0,342.8 364.0,328.0 368.0,342.8 371.1,341.1 374.1,342.8 377.1,339.3 380.1,342.8 383.1,342.9 386.1,341.5 389.1,342.8 392.1,342.8 395.2,342.8 398.2,342.9 401.2,342.9 404.2,342.9 407.2,342.9 410.2,339.0 413.2,342.9 416.2,342.8 419.2,342.8 422.2,342.9 425.3,343.0 428.3,343.0 431.3,335.8 434.3,342.9 437.3,342.9 440.3,342.9 443.3,342.8 446.3,340.0 449.3,342.9 452.3,342.9 455.4,342.8 458.4,342.9 461.4,342.9 464.4,342.8 467.4,342.9 470.4,342.8 473.4,342.8 476.4,342.9 479.4,342.8 482.4,343.0 485.5,340.3 488.5,340.9 491.5,339.7 494.5,342.8 497.5,339.6 500.5,343.0 503.5,342.8 506.5,342.8 509.5,342.9 512.1,342.8 515.7,311.0 517.5,342.8 520.5,312.0 523.5,342.8 526.5,318.0 528.0,342.8 531.0,331.0 534.0,342.8 536.6,338.8 539.6,342.8 542.6,340.8 545.6,335.9 548.7,343.0 551.7,342.8 554.7,342.9 557.7,339.0 560.7,342.8 563.7,341.3 566.7,342.9 569.7,339.0 572.7,342.8 575.7,339.2 578.8,339.2 581.8,342.9 583.0,342.8 586.0,333.0 589.0,342.8 590.8,342.9 593.8,341.1 596.8,341.0 599.8,342.9 602.8,342.9 605.8,343.0 608.9,343.0 611.9,343.0 614.9,342.9 617.9,342.9 620.9,343.0 623.9,342.9 626.9,342.8 629.9,342.9 632.9,342.8 635.9,342.8 639.0,342.8 642.0,342.9 645.0,341.1 648.0,339.5 651.0,343.0 654.0,339.2 657.0,342.8 660.0,342.9 663.0,342.9 666.0,342.9 669.1,342.8 672.1,342.9 675.1,342.8 678.1,342.9 681.1,337.5 684.1,342.9 687.1,342.9 690.1,337.9 693.1,340.4 696.1,338.9 699.2,342.9 702.2,342.9 705.2,342.8 708.2,342.8 711.2,342.9 714.2,343.0 717.2,342.8 720.2,335.7 723.2,342.8 726.2,342.8 729.3,340.1 732.3,342.8 735.3,342.8 738.3,342.8 741.3,342.8 744.3,343.0 747.3,340.5 750.3,339.2 753.3,342.8 756.3,342.8 759.4,343.0 762.4,342.8 765.4,342.9 768.4,343.0 771.4,342.9 774.4,340.8 777.4,342.9 779.3,342.8 782.5,327.0 785.7,342.8 786.4,342.8 789.5,342.8 792.5,343.0 795.5,340.8 798.5,342.9 801.5,343.0 804.5,340.8 807.5,342.8 810.5,342.9 813.5,342.9 816.5,343.0 819.6,343.0 823.0,342.8 826.0,334.0 829.0,342.8 831.6,342.9 834.6,342.8 837.6,342.9 840.6,340.1 843.6,343.0 846.6,342.9 849.7,342.8 852.7,342.8 855.7,343.0 858.7,337.0 861.7,342.9 864.7,340.6 867.7,342.8 870.7,336.0 873.7,343.0 876.7,342.8 879.8,342.9 882.8,342.9 885.8,342.9 888.8,342.9 891.8,343.0 894.8,339.2 897.8,342.8 900.8,342.9 903.8,343.0 906.8,342.8 909.0,342.8 912.0,333.0 915.0,342.8 915.9,342.9 918.9,343.0 921.9,342.9 924.9,342.8 927.9,343.0 930.9,343.0 934.0,342.8 937.0,334.0 940.0,342.8 943.0,342.9 946.0,342.9 949.0,343.0 952.0,342.8 955.0,342.9" fill="none" stroke="#0f6cbd" stroke-width="1.3" stroke-linejoin="round"/>
<polyline points="46.0,342.9 49.0,343.0 52.0,342.8 55.0,335.8 58.0,342.9 61.0,335.8 64.1,342.8 67.1,342.8 70.1,342.8 73.1,342.8 76.1,342.9 79.1,342.9 82.1,342.8 85.1,342.8 88.1,342.8 91.1,342.8 94.2,342.8 97.2,342.8 100.2,342.9 103.2,343.0 106.2,342.8 109.2,342.8 112.2,342.8 115.2,342.9 118.2,343.0 121.2,343.0 124.3,343.0 127.3,342.9 130.3,342.9 133.3,342.8 136.3,340.2 139.3,342.9 142.3,342.9 145.3,342.8 148.3,342.8 151.3,342.9 154.4,342.8 157.4,342.8 160.4,342.8 163.4,343.0 166.4,343.0 169.4,343.0 172.4,342.9 175.4,343.0 178.4,342.9 181.4,342.8 184.5,337.1 187.5,339.2 190.5,343.0 193.5,342.9 196.5,342.8 199.5,342.8 202.5,343.0 205.5,343.0 208.5,342.9 211.5,343.0 214.6,342.9 217.6,342.9 220.6,342.9 223.6,342.8 226.6,342.8 229.6,342.9 232.6,342.9 235.6,339.0 238.6,342.8 241.6,342.9 244.7,342.8 247.7,342.8 250.7,342.8 253.7,342.9 256.7,343.0 259.7,342.9 262.7,342.9 265.7,342.8 268.7,343.0 270.0,342.8 273.0,330.0 276.0,342.8 277.8,342.9 280.8,342.9 283.8,342.9 286.8,338.2 289.8,342.9 292.8,342.9 295.8,342.8 298.8,342.8 301.8,342.9 304.9,342.8 307.9,342.8 310.9,342.8 313.9,342.8 316.9,341.5 319.9,342.9 322.9,343.0 325.9,342.8 328.9,342.8 331.9,342.8 335.0,343.0 338.0,340.3 341.0,342.9 344.0,343.0 347.0,342.8 350.0,342.8 353.0,338.2 356.0,342.8 359.0,339.0 362.0,342.8 365.1,342.9 368.1,342.9 371.1,343.0 374.1,342.8 377.1,339.5 380.1,343.0 383.1,342.8 386.1,342.8 389.1,342.8 390.0,342.8 393.0,335.0 396.0,342.8 398.2,342.8 401.2,343.0 404.2,343.0 407.2,342.8 410.2,342.9 413.2,342.9 416.2,342.9 419.2,338.8 422.2,342.9 425.3,342.9 428.3,342.9 431.3,340.2 434.3,342.9 437.3,342.9 440.3,342.8 443.3,342.9 446.3,342.8 449.3,343.0 452.3,340.6 455.4,339.7 458.4,342.9 461.4,342.8 464.4,343.0 467.4,342.9 470.4,342.8 473.4,343.0 476.4,341.2 479.4,342.8 482.4,342.8 485.5,340.1 488.5,343.0 491.5,342.8 494.5,343.0 497.5,342.9 500.5,343.0 503.5,343.0 506.5,342.9 509.5,343.0 512.5,342.8 515.5,342.9 518.6,342.9 521.6,342.8 524.6,343.0 527.6,340.0 530.6,342.8 533.6,340.1 536.6,343.0 539.6,342.9 542.6,342.9 545.6,342.8 548.7,343.0 551.7,343.0 554.7,342.8 557.7,342.8 559.0,342.8 562.0,333.6 565.0,342.8 566.7,343.0 569.7,342.8 572.7,342.8 575.7,342.8 578.8,342.8 581.8,343.0 584.8,339.5 587.8,342.8 590.8,342.8 593.8,343.0 596.8,342.8 599.8,338.8 602.8,342.8 605.8,342.9 608.9,342.8 611.9,342.9 614.9,342.8 617.9,342.9 620.9,342.9 623.9,342.9 626.9,342.9 629.9,342.9 632.9,342.9 635.9,342.9 639.0,343.0 642.0,342.9 645.0,342.8 648.0,342.9 651.0,342.8 654.0,342.9 657.0,342.9 660.0,342.8 663.0,342.8 666.0,342.9 669.1,342.9 672.1,342.8 675.1,342.9 678.1,342.8 681.1,342.8 684.1,342.8 687.1,343.0 690.1,343.0 693.1,342.9 696.1,342.8 699.2,342.9 702.2,343.0 705.2,342.8 708.2,342.9 711.2,342.9 714.2,342.8 717.2,342.8 720.2,342.9 723.2,342.8 726.2,343.0 729.3,342.8 732.3,342.9 735.3,342.8 738.3,343.0 741.3,342.9 744.3,342.8 747.3,342.9 750.3,342.9 753.3,337.4 756.3,343.0 759.4,342.8 762.4,342.8 765.4,343.0 768.4,336.3 771.4,342.9 774.4,342.8 777.4,342.9 780.4,342.9 783.4,343.0 786.4,342.8 789.5,342.9 792.5,342.9 795.5,342.9 798.5,342.8 801.5,342.8 804.5,342.8 807.5,342.9 810.5,343.0 813.5,342.8 816.5,342.8 819.6,342.8 822.6,340.5 825.6,342.8 828.6,342.8 831.6,342.9 834.6,343.0 837.6,342.8 840.6,342.8 843.6,340.3 846.6,343.0 849.7,341.3 852.7,342.9 855.7,342.9 858.7,342.9 861.7,343.0 864.7,342.9 867.7,342.8 870.7,342.8 873.7,342.9 876.7,342.9 879.8,343.0 882.8,342.9 885.8,342.8 888.8,342.9 891.8,342.8 894.8,342.9 897.8,342.9 900.8,343.0 903.8,342.8 906.8,342.9 909.9,342.8 912.9,342.8 915.9,342.8 918.9,338.1 921.9,342.8 924.9,342.9 927.9,343.0 930.9,342.8 933.9,342.9 936.9,343.0 940.0,343.0 943.0,342.9 946.0,343.0 949.0,342.8 952.0,342.9 955.0,342.9" fill="none" stroke="#2b94d6" stroke-width="1.3" stroke-linejoin="round"/>
<polyline points="46.0,341.2 49.0,342.9 52.0,342.9 55.0,338.0 58.0,342.8 61.0,342.9 64.1,342.9 67.1,342.8 70.1,337.3 73.1,342.8 76.1,342.8 79.1,342.9 82.1,343.0 85.1,343.0 88.1,338.2 91.1,342.8 94.2,337.0 97.2,342.8 100.2,342.9 103.2,342.8 106.2,342.8 109.2,342.9 112.2,342.9 115.2,339.8 118.2,339.4 121.2,342.8 124.3,342.9 127.3,342.9 130.3,343.0 133.3,343.0 136.3,342.9 139.3,342.9 142.3,342.8 145.3,342.9 148.3,342.8 151.3,342.8 154.4,342.9 157.4,339.2 160.4,342.8 163.4,340.3 166.4,342.9 169.4,340.3 172.4,342.9 175.4,342.9 178.4,342.8 181.4,341.1 184.5,342.9 187.5,343.0 190.5,343.0 193.5,342.8 196.5,338.9 199.5,340.5 202.5,342.8 205.5,342.9 208.5,342.8 211.5,340.9 214.6,343.0 217.6,342.8 220.6,342.9 223.6,342.9 226.6,339.9 229.6,342.8 232.6,342.9 235.6,342.8 238.6,342.9 241.6,342.8 244.7,342.8 247.7,342.8 250.7,342.9 253.7,342.8 256.7,340.4 259.7,342.8 262.7,342.9 265.7,342.9 268.7,342.9 271.7,342.8 274.8,342.8 277.8,342.9 280.8,342.8 283.8,336.8 286.8,339.4 289.8,342.9 292.8,339.9 295.8,342.8 298.8,342.8 301.8,342.9 304.9,342.8 307.9,342.8 310.9,342.8 313.9,338.8 316.9,343.0 319.9,342.9 322.9,337.3 325.9,342.8 328.9,342.9 331.9,342.8 335.0,342.9 338.0,342.8 341.0,342.9 344.0,339.4 347.0,342.8 350.0,342.9 353.0,342.8 356.0,342.8 359.0,342.8 362.0,342.9 365.1,343.0 368.1,342.9 371.1,342.9 374.1,342.9 377.1,343.0 380.1,336.1 383.1,342.9 386.1,342.9 389.1,342.8 392.1,342.9 395.2,342.8 398.2,339.3 401.2,342.8 404.2,339.3 407.2,343.0 410.2,335.2 413.2,342.9 416.2,341.1 419.2,342.8 422.2,343.0 425.3,342.8 428.3,339.1 431.3,342.8 434.3,342.8 437.3,342.8 440.3,342.8 443.3,342.8 446.3,342.8 449.3,342.9 452.3,343.0 455.4,343.0 458.4,343.0 461.4,342.9 464.4,342.8 467.4,335.6 470.4,342.9 473.4,342.8 476.4,342.9 479.4,343.0 482.4,342.8 485.5,336.6 488.5,342.8 491.5,342.8 494.5,342.9 497.5,343.0 500.5,342.8 503.5,342.8 506.5,342.9 509.5,342.8 512.5,342.9 515.5,342.9 518.6,342.9 521.6,342.9 524.6,342.9 527.6,342.8 530.6,342.8 533.6,342.9 536.6,342.9 539.6,342.8 542.6,336.1 545.6,342.9 548.7,337.8 551.7,338.2 554.7,342.8 557.7,342.8 560.7,342.8 563.7,342.8 566.7,342.9 569.7,342.9 572.7,342.9 575.7,343.0 578.8,343.0 581.8,342.8 584.8,342.9 587.8,342.8 590.8,342.9 593.8,342.9 596.8,342.9 599.8,342.8 602.8,340.0 605.8,338.5 608.9,342.9 611.9,342.9 614.9,337.5 617.9,342.8 620.9,342.9 623.9,343.0 626.9,342.9 629.9,341.5 632.9,336.3 635.9,338.9 639.0,339.2 642.0,341.5 645.0,342.9 648.0,343.0 651.0,335.9 654.0,342.8 657.0,343.0 660.0,342.8 663.0,342.8 666.0,342.8 669.1,343.0 672.1,336.4 675.1,343.0 678.1,342.8 681.1,339.2 684.1,343.0 687.1,342.9 690.1,342.8 693.1,339.3 696.1,342.8 699.2,342.9 702.2,342.8 705.2,342.8 708.2,342.9 711.2,338.9 714.2,342.8 717.2,342.8 720.2,342.8 723.2,342.9 726.2,342.8 729.3,342.8 732.3,342.8 735.3,342.9 738.3,337.9 741.3,342.9 744.3,342.8 747.3,335.7 750.3,342.8 753.3,342.9 756.3,342.8 759.4,342.8 762.4,343.0 765.4,342.8 768.4,342.8 771.4,342.9 774.4,342.8 777.4,342.9 780.4,342.8 783.4,342.9 786.4,339.3 789.5,342.9 792.5,342.8 795.5,342.9 798.5,342.9 801.5,343.0 804.5,342.8 807.5,342.9 810.5,342.9 813.5,341.4 816.5,342.9 819.6,339.8 822.6,343.0 825.6,342.9 828.6,343.0 831.6,335.0 834.6,342.9 837.6,342.9 840.6,342.9 843.6,342.8 846.6,342.8 849.7,343.0 852.7,343.0 855.7,341.4 858.7,342.8 861.7,342.8 864.7,343.0 867.7,342.9 870.7,338.9 873.7,342.9 876.7,342.8 879.8,342.9 882.8,343.0 885.8,342.8 888.8,343.0 891.8,342.9 894.8,342.8 897.8,343.0 900.8,342.8 903.8,342.8 906.8,341.1 909.9,342.8 912.9,342.9 915.9,342.8 918.9,340.6 921.9,343.0 924.9,343.0 927.9,343.0 930.9,343.0 933.9,343.0 936.9,335.3 940.0,342.8 943.0,342.8 946.0,340.3 949.0,339.0 952.0,342.8 955.0,342.9" fill="none" stroke="#b4239b" stroke-width="1.3" stroke-linejoin="round"/>
<polyline points="46.0,342.9 49.0,343.0 52.0,343.0 55.0,340.7 58.0,342.9 61.0,339.3 64.1,343.0 67.1,342.8 70.1,339.0 73.1,342.9 76.1,335.5 79.1,343.0 82.1,342.8 85.1,342.8 88.1,342.9 91.1,342.8 94.2,342.8 97.2,342.8 100.2,342.9 103.2,342.9 106.2,339.2 109.2,342.9 112.2,342.8 115.2,339.4 118.2,342.9 121.2,340.7 124.3,342.9 127.3,343.0 130.3,340.6 133.3,343.0 136.3,339.5 139.3,339.7 142.3,340.8 145.3,342.8 148.3,342.9 151.3,337.6 154.4,342.8 157.4,342.8 160.4,342.8 163.4,340.5 166.4,342.9 169.4,342.9 172.4,342.9 175.4,342.8 178.4,342.9 181.4,342.8 184.5,342.9 187.5,342.9 190.5,343.0 193.5,342.8 196.5,340.3 199.5,342.9 202.5,342.8 205.5,342.9 208.5,339.8 211.5,342.8 214.6,342.9 217.6,342.9 220.6,342.9 223.6,342.8 226.6,342.9 229.6,343.0 232.6,342.8 235.6,342.9 238.6,343.0 241.6,342.8 244.7,342.8 247.7,339.5 250.7,342.9 253.7,339.3 256.7,343.0 259.7,342.9 262.7,342.9 265.7,342.8 268.7,342.8 271.7,343.0 272.4,342.8 276.0,323.0 279.6,342.8 280.8,342.9 283.8,342.9 286.8,339.0 289.8,342.9 292.8,342.9 295.8,342.9 298.8,342.8 301.8,342.9 304.9,338.4 307.9,342.8 310.9,342.9 313.9,342.9 316.9,342.9 319.9,338.7 322.9,342.8 325.9,342.8 328.9,342.9 331.9,336.8 335.0,342.9 338.0,337.1 341.0,336.1 344.0,342.9 347.0,342.9 350.0,341.0 353.0,342.9 356.0,342.9 359.0,342.9 362.0,342.9 365.1,343.0 366.8,342.8 370.0,331.5 373.2,342.8 374.1,340.6 377.1,342.8 380.1,337.2 383.1,342.8 386.1,342.9 389.1,342.8 392.1,342.8 395.2,342.8 398.2,342.8 401.2,342.9 404.2,343.0 407.2,343.0 410.2,342.9 413.2,342.9 416.2,339.4 419.2,342.8 422.2,343.0 425.3,342.9 428.3,343.0 431.3,342.8 434.3,342.8 437.3,342.8 440.3,342.9 443.3,342.9 446.3,343.0 449.3,342.9 452.3,340.6 455.4,342.9 458.4,339.5 461.4,339.5 464.4,341.2 467.4,342.9 470.4,342.8 473.4,342.9 476.4,342.8 479.4,342.9 482.4,342.8 485.5,337.7 488.5,343.0 491.5,342.8 494.5,335.7 497.5,343.0 500.5,342.9 503.5,341.2 506.5,343.0 509.5,340.8 512.5,342.9 515.5,342.9 518.6,342.8 521.7,342.8 525.5,277.3 529.3,342.8 530.6,339.1 532.9,342.8 536.7,292.0 540.5,342.8 542.6,342.9 545.6,342.9 548.7,342.8 551.7,339.8 554.7,342.8 557.7,339.6 560.7,337.9 563.7,341.1 566.7,343.0 569.7,343.0 572.7,342.8 575.7,340.9 578.8,342.9 581.8,342.9 584.8,342.8 587.8,342.8 590.8,342.9 593.8,342.8 596.8,339.2 599.8,342.8 602.8,343.0 605.8,343.0 606.9,342.8 610.7,296.8 614.5,342.8 617.9,335.3 620.9,342.8 623.9,342.8 626.9,342.9 627.8,342.8 632.0,274.0 636.2,342.8 639.0,342.8 642.0,343.0 645.0,342.8 648.0,343.0 651.0,342.9 654.0,342.8 657.0,343.0 660.0,342.9 663.0,338.5 666.0,342.8 669.1,341.1 672.1,342.8 675.1,343.0 678.1,342.8 681.1,337.3 684.1,335.0 687.1,338.9 690.1,342.8 693.1,336.2 696.1,342.9 699.2,340.1 702.2,343.0 705.2,342.9 708.2,342.9 711.2,342.8 714.2,342.8 717.2,342.9 720.2,342.9 723.2,337.7 726.2,343.0 729.3,343.0 732.3,342.9 735.3,342.8 738.3,342.8 741.3,342.8 744.3,340.0 747.3,342.8 750.3,340.6 753.3,342.8 756.3,343.0 759.4,341.2 762.4,342.8 765.4,342.8 768.4,342.9 771.4,342.8 774.4,342.9 777.4,342.8 780.4,343.0 783.4,342.9 786.4,342.9 789.5,342.9 792.5,342.9 795.5,343.0 798.5,336.1 801.5,342.9 804.5,342.9 807.5,343.0 810.5,342.8 813.5,342.9 816.5,343.0 819.6,342.8 822.6,342.9 825.6,342.8 828.6,342.9 831.6,342.8 834.6,342.8 837.6,339.9 840.6,342.8 843.6,343.0 846.6,336.1 849.7,339.3 852.7,342.9 855.7,342.8 858.7,343.0 861.7,342.9 864.7,342.8 867.7,343.0 870.7,342.9 873.7,342.9 876.7,342.8 879.8,339.6 882.8,342.8 885.8,342.9 888.8,343.0 891.8,342.8 894.8,342.9 897.8,338.5 900.8,343.0 903.8,342.8 906.8,342.9 909.9,342.9 912.9,342.8 915.9,340.8 918.9,342.8 921.9,341.0 924.9,340.9 927.9,342.9 930.9,342.9 933.9,342.9 936.9,342.8 940.0,342.8 943.0,342.8 946.0,342.8 949.0,333.0 952.0,342.8 955.0,342.8" fill="none" stroke="#cf2fc4" stroke-width="1.3" stroke-linejoin="round"/>
<polyline points="46.0,342.8 49.0,329.0 52.0,342.8 55.0,342.8 58.0,342.9 61.0,342.8 64.1,343.0 67.1,343.0 70.1,342.8 73.1,342.9 76.1,343.0 77.8,342.8 81.0,332.0 84.2,342.8 85.1,342.8 88.1,342.9 91.1,342.9 94.2,342.9 97.2,337.7 100.2,338.7 103.2,343.0 106.2,340.7 109.2,339.0 112.2,342.8 115.2,342.9 118.2,342.9 120.1,342.8 124.5,248.0 128.9,342.8 130.3,342.8 133.3,343.0 136.3,342.9 139.3,342.9 142.3,338.9 145.3,339.5 148.3,342.9 151.3,342.9 154.4,340.9 157.4,342.9 160.4,342.9 163.4,336.0 166.4,342.8 169.4,342.9 172.4,342.8 175.4,342.9 178.4,343.0 181.4,342.9 184.5,342.8 187.5,339.5 190.5,342.8 193.5,340.8 196.5,342.9 199.5,342.9 202.5,340.3 205.5,335.8 208.5,339.3 211.5,342.8 214.6,343.0 217.6,342.9 220.6,342.8 223.6,342.8 226.6,342.8 229.6,343.0 232.6,340.4 235.6,343.0 238.6,339.2 241.6,343.0 244.7,339.9 247.7,340.2 250.7,342.9 253.7,342.8 257.0,342.8 260.0,334.0 263.0,342.8 265.7,342.9 268.7,342.9 271.7,342.9 274.8,342.8 277.8,342.9 280.8,336.4 283.8,343.0 286.8,342.8 289.8,339.2 292.8,343.0 295.8,341.3 298.8,341.3 301.8,342.9 304.9,342.9 307.9,342.8 310.9,343.0 313.9,341.5 316.9,343.0 319.9,342.8 322.9,342.9 325.9,336.0 328.9,342.8 331.9,342.9 335.0,335.2 338.0,342.9 341.0,342.8 344.0,342.9 347.0,340.4 350.0,342.9 353.0,342.9 356.0,342.9 359.0,340.0 362.0,343.0 365.1,342.8 368.1,343.0 371.1,342.8 374.1,342.9 377.1,340.7 380.1,342.8 383.1,339.8 386.1,342.8 389.1,337.2 392.1,342.9 395.2,343.0 398.2,342.9 401.2,342.9 404.2,342.8 407.2,339.5 410.2,335.3 413.2,336.1 416.2,343.0 419.2,342.9 422.2,343.0 425.3,342.9 428.3,342.9 431.3,342.9 434.3,342.9 437.3,342.8 440.3,342.8 443.3,341.2 446.3,337.2 449.3,342.9 452.3,342.8 455.4,341.1 458.4,342.9 461.4,342.8 464.4,340.0 467.4,343.0 470.4,342.8 473.4,342.9 476.4,343.0 479.4,343.0 482.4,342.8 485.5,337.5 488.5,340.2 491.5,338.4 494.5,341.3 496.6,342.8 500.0,322.8 503.4,342.8 506.5,340.8 509.5,343.0 512.5,343.0 515.5,342.9 518.6,342.8 521.6,341.3 524.6,342.9 527.6,342.9 530.6,343.0 533.6,342.9 536.6,342.9 539.6,339.8 542.6,339.3 545.6,342.9 548.7,340.1 551.7,342.8 554.7,342.9 557.7,342.9 560.7,342.8 563.7,342.8 566.7,339.3 569.7,342.9 572.7,342.8 575.7,342.9 578.8,335.5 581.8,340.8 584.8,343.0 587.8,342.8 590.8,339.7 593.8,340.2 596.8,342.8 599.8,338.2 602.8,342.9 605.8,342.9 608.9,342.8 611.9,342.9 614.9,342.9 617.9,338.9 620.9,342.8 623.9,342.9 626.9,342.9 629.9,342.8 632.9,342.8 635.9,342.9 639.0,342.9 642.0,342.9 645.0,342.8 648.0,342.8 651.0,341.1 654.0,342.9 657.0,343.0 660.0,339.6 663.0,339.2 666.0,342.8 669.1,342.9 672.1,343.0 675.1,342.9 678.1,335.6 681.1,343.0 684.1,342.9 687.1,341.4 690.1,339.6 693.1,342.9 696.1,340.7 699.2,342.9 702.2,342.8 705.2,339.2 708.2,336.2 711.2,342.8 714.2,342.8 717.2,340.0 720.2,340.4 723.2,339.6 726.2,342.8 729.3,342.9 732.3,342.8 735.3,342.9 738.3,342.9 741.3,340.6 744.3,342.8 747.3,342.8 750.3,342.8 753.3,342.9 756.3,342.9 759.4,339.8 762.4,342.9 765.4,342.8 768.4,341.1 771.4,342.9 774.4,342.8 777.4,342.8 780.4,343.0 783.4,343.0 786.4,337.2 789.5,337.1 792.5,342.8 795.5,342.8 798.5,342.9 801.5,340.7 804.5,342.9 807.5,342.9 810.5,342.8 813.5,342.9 816.5,343.0 819.6,341.4 822.6,342.8 825.6,342.8 828.6,342.9 831.6,343.0 834.6,342.9 837.6,343.0 840.6,342.9 843.6,342.9 846.6,339.5 849.7,342.9 852.7,339.9 855.7,342.8 858.7,343.0 861.7,342.8 864.7,339.0 867.7,342.8 870.7,339.9 873.7,342.9 876.7,342.8 879.8,342.9 882.8,342.9 885.8,342.9 888.8,343.0 891.8,342.9 894.8,342.8 897.8,342.9 900.8,342.9 903.8,342.8 906.8,337.7 909.9,343.0 912.9,343.0 915.9,342.8 918.9,340.5 921.9,339.6 924.9,342.8 927.9,342.9 930.9,342.8 933.9,342.9 936.9,342.9 940.0,342.8 943.0,340.0 946.0,342.8 949.0,337.9 952.0,342.8 955.0,339.2" fill="none" stroke="#8e62c0" stroke-width="1.3" stroke-linejoin="round"/>
<polyline points="46.0,342.8 49.0,337.0 52.0,342.8 55.0,342.8 58.0,342.9 61.0,341.1 64.1,342.9 67.1,342.9 70.1,342.9 73.1,339.3 76.1,342.8 79.1,342.8 82.1,343.0 85.1,342.8 88.1,343.0 91.1,340.8 94.2,340.5 97.2,342.9 99.4,342.8 103.0,333.0 106.6,342.8 109.2,342.8 112.2,343.0 115.2,342.9 118.2,342.9 121.2,342.9 124.3,343.0 127.3,340.0 130.3,338.3 133.3,342.9 136.3,342.9 139.3,343.0 142.3,342.8 145.3,340.4 148.3,342.8 151.3,343.0 154.4,342.9 157.4,342.9 160.4,342.8 163.4,342.9 166.4,342.9 169.4,343.0 172.4,342.8 175.4,342.8 178.4,343.0 179.4,342.8 183.0,330.0 186.6,342.8 187.5,342.8 190.5,336.6 193.5,342.9 196.5,342.9 199.5,342.8 202.5,342.9 205.5,342.8 208.5,342.8 211.5,343.0 214.6,342.9 217.6,342.8 220.6,340.9 223.6,339.3 226.6,341.3 229.6,342.9 232.6,336.3 235.6,342.9 238.6,336.2 241.6,342.9 244.7,342.8 247.7,343.0 250.7,342.9 253.7,335.0 256.7,342.9 259.7,342.9 262.7,342.9 265.7,342.9 268.7,337.8 271.7,342.8 274.8,342.9 277.8,341.4 280.8,342.9 283.8,342.9 286.8,342.9 289.8,342.9 292.8,342.9 295.8,337.7 298.8,342.9 301.8,342.9 304.9,342.8 307.9,342.8 310.9,342.9 313.9,342.8 316.9,342.8 319.9,337.3 322.9,343.0 325.9,343.0 328.9,343.0 331.9,342.9 335.0,342.9 338.0,342.8 341.0,342.9 344.0,343.0 347.0,342.9 350.0,341.2 353.0,342.8 356.0,342.8 359.0,342.8 362.0,343.0 365.1,336.2 368.1,335.7 371.1,342.9 374.1,342.9 377.1,343.0 380.1,342.9 383.1,343.0 386.1,342.8 387.0,342.8 390.0,335.0 393.0,342.8 395.2,340.0 398.2,340.2 401.2,342.9 404.2,343.0 407.2,343.0 410.2,342.8 413.2,342.9 416.2,342.9 419.2,342.9 422.2,343.0 425.3,342.8 428.3,342.9 431.3,341.1 434.3,342.8 437.3,342.9 440.3,343.0 443.3,342.8 446.3,342.8 449.3,343.0 452.3,342.9 455.4,342.8 458.4,339.4 461.4,343.0 464.4,343.0 467.4,342.8 470.4,342.9 473.4,336.9 476.4,339.8 479.4,339.9 482.4,342.9 485.5,343.0 488.5,339.0 491.5,342.8 494.5,342.9 497.5,341.2 500.5,343.0 503.5,342.9 506.5,340.2 509.5,340.1 512.5,342.9 515.5,340.4 518.6,341.2 521.6,342.8 524.6,342.8 527.6,335.2 530.6,342.8 533.6,342.8 536.6,342.8 537.2,342.8 540.6,321.7 544.0,342.8 545.6,342.9 548.7,343.0 551.7,342.9 554.7,342.8 557.7,343.0 560.7,342.9 563.7,343.0 566.7,342.8 569.7,342.9 572.7,342.9 575.7,343.0 578.8,342.9 581.8,343.0 584.8,342.8 587.8,343.0 590.8,343.0 593.8,340.9 596.8,342.8 599.8,342.8 602.8,342.9 605.8,342.8 608.9,342.8 611.9,339.8 614.9,342.8 617.9,339.6 620.9,343.0 623.9,342.8 626.9,343.0 629.9,342.8 632.9,342.8 635.9,342.8 639.0,342.9 642.0,342.8 645.0,342.9 648.0,342.9 651.0,343.0 654.0,342.8 657.0,342.8 660.0,343.0 663.0,342.9 666.0,342.8 669.1,342.8 672.1,342.8 675.1,342.8 678.1,342.8 681.1,343.0 684.1,342.8 687.1,342.9 690.1,342.8 693.1,337.0 696.1,338.6 699.2,342.9 702.2,342.9 705.2,342.9 708.2,342.8 711.2,342.9 714.2,340.8 717.2,342.9 720.2,342.8 721.3,342.8 724.7,332.8 728.1,342.8 729.3,340.8 732.3,342.9 735.3,339.1 738.3,342.8 741.3,342.9 744.3,342.9 747.3,343.0 750.3,343.0 753.3,343.0 756.3,338.9 759.4,342.8 762.4,342.9 765.4,340.0 768.4,342.9 771.4,342.8 774.4,342.8 777.4,339.8 780.4,342.8 783.4,342.8 786.4,342.9 789.5,342.8 792.5,342.9 795.5,342.8 798.5,335.7 801.5,342.9 804.5,342.8 807.5,342.8 810.5,343.0 813.5,343.0 816.5,342.8 819.6,339.9 822.6,343.0 825.6,342.8 828.6,342.9 831.6,342.9 834.6,342.9 837.6,342.8 840.6,342.8 843.6,342.8 846.6,342.8 849.7,343.0 852.7,342.8 855.7,342.9 858.7,340.1 861.0,342.8 864.0,333.0 867.0,342.8 867.7,343.0 870.7,342.9 873.7,342.8 876.7,340.7 879.8,343.0 882.8,342.9 885.8,340.8 888.8,342.9 891.8,342.9 894.8,339.0 897.8,342.8 900.8,342.8 903.8,343.0 906.8,342.9 909.9,342.8 912.9,342.9 915.9,342.8 918.9,342.9 921.9,342.9 924.9,343.0 927.9,342.9 930.9,342.8 933.9,342.9 936.9,340.0 940.0,342.8 943.0,342.8 946.0,340.7 949.0,342.8 952.0,342.8 955.0,342.9" fill="none" stroke="#f5b400" stroke-width="1.3" stroke-linejoin="round"/>
<polyline points="46.0,342.9 49.0,343.0 52.0,342.8 55.0,343.0 58.0,342.9 61.0,340.8 64.1,342.8 67.1,342.9 70.1,342.9 73.1,342.9 76.1,342.8 79.1,342.8 82.1,343.0 85.1,341.1 88.1,342.9 91.1,342.9 94.2,342.9 97.2,342.8 100.2,343.0 103.2,342.9 106.2,343.0 109.2,342.9 112.2,342.9 115.2,341.0 118.2,342.8 121.2,342.8 124.3,342.9 127.3,338.8 130.3,339.8 133.3,343.0 136.3,342.8 139.3,343.0 142.3,342.8 145.3,343.0 148.3,343.0 151.3,342.9 154.4,342.9 157.4,342.8 160.4,342.9 163.4,335.7 166.4,337.7 169.4,342.8 172.4,343.0 175.4,342.8 178.4,343.0 181.4,342.8 184.5,343.0 187.5,342.9 190.5,341.1 193.5,343.0 196.5,342.9 199.5,342.9 202.5,343.0 205.5,342.8 208.5,342.8 211.5,342.9 214.6,342.9 217.6,340.8 220.6,339.1 223.6,342.9 226.6,343.0 229.6,342.8 232.6,342.8 235.6,343.0 238.6,342.8 241.6,342.9 244.7,342.8 247.7,342.8 250.7,342.9 253.7,342.8 256.7,342.9 259.7,342.9 262.7,342.8 265.7,342.9 268.7,342.8 271.7,342.9 274.8,341.0 277.8,343.0 280.8,342.9 283.8,342.9 286.8,342.9 289.8,339.0 292.8,341.1 295.8,342.8 298.8,342.8 301.8,343.0 304.9,338.1 307.9,343.0 310.9,342.8 313.9,342.9 316.9,342.8 319.9,342.9 322.9,342.8 325.9,342.8 328.9,342.8 331.9,342.8 335.0,342.8 338.0,342.9 341.0,342.8 344.0,342.8 347.0,335.4 350.0,342.9 353.0,343.0 356.0,342.8 359.0,342.9 362.0,342.8 365.1,341.2 368.1,340.0 371.1,342.9 374.1,343.0 377.1,342.8 380.1,342.9 383.1,342.8 386.1,342.8 389.1,342.8 392.1,343.0 395.2,340.6 398.2,340.4 401.2,342.8 404.2,342.9 407.2,343.0 410.2,343.0 413.2,342.9 416.2,342.9 419.2,342.9 422.2,342.8 425.3,342.9 428.3,342.9 431.3,337.1 434.3,343.0 437.3,342.8 440.3,342.8 443.3,343.0 446.3,342.8 449.3,343.0 452.3,337.6 455.4,342.9 458.4,339.2 461.4,342.8 464.4,342.9 467.4,342.8 470.4,342.8 473.4,340.0 476.4,342.8 479.4,343.0 482.4,342.8 485.5,342.8 488.5,343.0 491.5,342.9 494.5,342.9 497.5,342.8 500.5,342.8 503.5,342.8 506.5,337.3 509.5,342.9 512.5,342.9 515.5,342.8 518.6,343.0 521.6,343.0 524.6,342.9 527.6,343.0 530.6,342.8 533.6,342.8 536.6,342.8 539.6,342.9 542.6,342.8 545.6,342.8 548.7,342.9 551.7,342.8 554.7,342.8 557.7,336.9 560.7,343.0 563.7,342.9 566.7,342.9 569.7,342.9 572.7,338.6 575.7,343.0 578.8,342.8 581.8,342.8 584.8,343.0 587.8,342.9 590.8,343.0 593.8,342.9 596.8,342.8 599.8,343.0 602.8,343.0 605.8,342.9 608.9,342.9 611.9,342.9 614.9,342.9 617.9,342.9 620.9,343.0 623.9,339.8 626.9,342.8 629.9,339.5 632.9,342.9 635.9,339.8 639.0,342.9 642.0,342.8 645.0,342.9 648.0,342.9 651.0,342.8 654.0,342.9 657.0,342.9 660.0,342.8 663.0,342.8 666.0,342.9 669.1,342.9 672.1,342.8 675.1,342.9 678.1,343.0 681.1,342.9 684.1,342.8 687.1,342.8 690.1,338.7 693.1,337.3 696.1,336.9 699.2,342.9 702.2,342.9 705.2,342.9 708.2,342.9 711.2,342.8 714.2,338.0 717.2,342.8 720.2,343.0 723.2,342.8 726.2,343.0 729.3,342.9 732.3,342.9 735.3,342.8 738.3,342.8 741.3,342.8 744.3,341.4 747.3,342.8 750.3,342.9 753.3,342.8 756.3,343.0 759.4,342.9 762.4,338.9 765.4,342.8 768.4,337.3 771.4,339.5 774.4,342.8 777.4,343.0 780.4,338.6 783.4,342.8 786.4,342.9 789.5,343.0 792.5,343.0 795.5,342.9 798.5,342.8 801.5,342.8 804.5,342.8 807.5,343.0 810.5,342.9 813.5,342.9 816.5,343.0 819.6,343.0 822.6,342.9 825.6,342.9 828.6,342.9 831.6,342.8 834.6,342.8 837.6,342.8 840.6,342.9 843.6,342.9 846.6,341.2 849.7,343.0 852.7,339.6 855.7,342.8 858.7,342.8 861.7,342.8 864.7,342.9 867.7,342.9 870.7,342.8 873.7,342.8 876.7,342.9 879.8,343.0 882.8,342.9 885.8,342.8 888.8,342.8 891.8,342.8 894.8,343.0 897.8,342.8 900.8,341.2 903.8,342.8 906.8,341.4 909.9,343.0 912.9,342.9 915.9,343.0 918.9,342.9 921.9,342.9 924.9,342.9 927.9,335.7 930.9,342.9 933.9,338.1 936.9,342.9 940.0,342.8 943.0,343.0 946.0,342.9 949.0,340.6 952.0,342.8 955.0,342.8" fill="none" stroke="#e8386b" stroke-width="1.3" stroke-linejoin="round"/>
<polyline points="123.1,343 125.1,266 127.1,343" fill="none" stroke="#0f6cbd" stroke-width="1.0"/>
</g>
<rect x="46.0" y="343.4" width="909.0" height="1.1" fill="#b8102c"/>
<rect x="46.0" y="342.4" width="909.0" height="1.0" fill="#e8386b"/>
</svg>
<span class="t" style="left:47.00px;top:347.67px;font-size:7px;font-weight:400;color:#4c4c4c;transform:scaleX(0.8642);">5 minutes ago</span>
<span class="t" style="left:948.00px;top:347.67px;font-size:7px;font-weight:400;color:#4c4c4c;transform:scaleX(0.8569);">Now</span>
<span class="t" style="left:963.00px;top:338.00px;font-size:6.5px;font-weight:400;color:#4c4c4c;transform:scaleX(0.9128);">0</span>
<span class="t" style="left:963.00px;top:190.00px;font-size:6.5px;font-weight:400;color:#4c4c4c;transform:scaleX(0.9222);">1.079</span>
<div class="b" style="left:391.5px;top:189px;width:1.4px;height:155px;background:#a8a8a8"></div>
<div class="b" style="left:399px;top:246px;width:88.5px;height:142px;background:#232323"></div>
<span class="t" style="left:402.30px;top:238.86px;font-size:6.9px;font-weight:400;color:#6a6a6a;transform:scaleX(0.8558);">7:27:14 PM</span>
<div class="b" style="left:400px;top:245.0px;width:87px;height:1px;background:#1b1b1b"></div>
<div class="b" style="left:403.3px;top:250.4px;width:3.3px;height:3.3px;background:#0f6cbd"></div>
<span class="t" style="left:412.00px;top:248.96px;font-size:6.9px;font-weight:400;color:#7a7a7a;transform:scaleX(0.9500);">0</span>
<span class="t" style="left:449.50px;top:247.72px;font-size:8.6px;font-weight:700;color:#e6e6e6;transform:scaleX(0.8300);">0.045 s</span>
<div class="b" style="left:400px;top:256.9px;width:87px;height:1px;background:#1b1b1b"></div>
<div class="b" style="left:403.3px;top:262.3px;width:3.3px;height:3.3px;background:#2f3e9e"></div>
<span class="t" style="left:412.00px;top:260.86px;font-size:6.9px;font-weight:400;color:#7a7a7a;transform:scaleX(0.9500);">1</span>
<span class="t" style="left:449.50px;top:259.62px;font-size:8.6px;font-weight:700;color:#e6e6e6;transform:scaleX(0.8300);">0 s</span>
<div class="b" style="left:400px;top:268.8px;width:87px;height:1px;background:#1b1b1b"></div>
<div class="b" style="left:403.3px;top:274.2px;width:3.3px;height:3.3px;background:#b4239b"></div>
<span class="t" style="left:412.00px;top:272.76px;font-size:6.9px;font-weight:400;color:#7a7a7a;transform:scaleX(0.9500);">2</span>
<span class="t" style="left:449.50px;top:271.52px;font-size:8.6px;font-weight:700;color:#e6e6e6;transform:scaleX(0.8300);">0.003 s</span>
<div class="b" style="left:400px;top:280.7px;width:87px;height:1px;background:#1b1b1b"></div>
<div class="b" style="left:403.3px;top:286.1px;width:3.3px;height:3.3px;background:#e8222e"></div>
<span class="t" style="left:412.00px;top:284.66px;font-size:6.9px;font-weight:400;color:#7a7a7a;transform:scaleX(0.9500);">3</span>
<span class="t" style="left:449.50px;top:283.42px;font-size:8.6px;font-weight:700;color:#e6e6e6;transform:scaleX(0.8300);">0 s</span>
<div class="b" style="left:400px;top:292.6px;width:87px;height:1px;background:#1b1b1b"></div>
<div class="b" style="left:403.3px;top:298.0px;width:3.3px;height:3.3px;background:#d61f3c"></div>
<span class="t" style="left:412.00px;top:296.56px;font-size:6.9px;font-weight:400;color:#7a7a7a;transform:scaleX(0.9500);">4</span>
<span class="t" style="left:449.50px;top:295.32px;font-size:8.6px;font-weight:700;color:#e6e6e6;transform:scaleX(0.8300);">0.014 s</span>
<div class="b" style="left:400px;top:304.5px;width:87px;height:1px;background:#1b1b1b"></div>
<div class="b" style="left:403.3px;top:309.9px;width:3.3px;height:3.3px;background:#f5b400"></div>
<span class="t" style="left:412.00px;top:308.46px;font-size:6.9px;font-weight:400;color:#7a7a7a;transform:scaleX(0.9500);">5</span>
<span class="t" style="left:449.50px;top:307.22px;font-size:8.6px;font-weight:700;color:#e6e6e6;transform:scaleX(0.8300);">0 s</span>
<div class="b" style="left:400px;top:316.4px;width:87px;height:1px;background:#1b1b1b"></div>
<div class="b" style="left:403.3px;top:321.8px;width:3.3px;height:3.3px;background:#13862b"></div>
<span class="t" style="left:412.00px;top:320.36px;font-size:6.9px;font-weight:400;color:#7a7a7a;transform:scaleX(0.9500);">6</span>
<span class="t" style="left:449.50px;top:319.12px;font-size:8.6px;font-weight:700;color:#e6e6e6;transform:scaleX(0.8300);">0.031 s</span>
<div class="b" style="left:400px;top:328.3px;width:87px;height:1px;background:#1b1b1b"></div>
<div class="b" style="left:403.3px;top:333.7px;width:3.3px;height:3.3px;background:#14866d"></div>
<span class="t" style="left:412.00px;top:332.26px;font-size:6.9px;font-weight:400;color:#7a7a7a;transform:scaleX(0.9500);">7</span>
<span class="t" style="left:449.50px;top:331.02px;font-size:8.6px;font-weight:700;color:#e6e6e6;transform:scaleX(0.8300);">0 s</span>
<div class="b" style="left:400px;top:340.2px;width:87px;height:1px;background:#1b1b1b"></div>
<div class="b" style="left:403.3px;top:345.6px;width:3.3px;height:3.3px;background:#2b94d6"></div>
<span class="t" style="left:412.00px;top:344.16px;font-size:6.9px;font-weight:400;color:#7a7a7a;transform:scaleX(0.9500);">8</span>
<span class="t" style="left:449.50px;top:342.92px;font-size:8.6px;font-weight:700;color:#e6e6e6;transform:scaleX(0.8300);">0.002 s</span>
<div class="b" style="left:400px;top:352.1px;width:87px;height:1px;background:#1b1b1b"></div>
<div class="b" style="left:403.3px;top:357.5px;width:3.3px;height:3.3px;background:#8e62c0"></div>
<span class="t" style="left:412.00px;top:356.06px;font-size:6.9px;font-weight:400;color:#7a7a7a;transform:scaleX(0.9500);">9</span>
<span class="t" style="left:449.50px;top:354.82px;font-size:8.6px;font-weight:700;color:#e6e6e6;transform:scaleX(0.8300);">0.015 s</span>
<div class="b" style="left:400px;top:364.0px;width:87px;height:1px;background:#1b1b1b"></div>
<div class="b" style="left:403.3px;top:369.4px;width:3.3px;height:3.3px;background:#cf2fc4"></div>
<span class="t" style="left:412.00px;top:367.96px;font-size:6.9px;font-weight:400;color:#7a7a7a;transform:scaleX(0.9500);">10</span>
<span class="t" style="left:449.50px;top:366.72px;font-size:8.6px;font-weight:700;color:#e6e6e6;transform:scaleX(0.8300);">0.031 s</span>
<div class="b" style="left:400px;top:375.9px;width:87px;height:1px;background:#1b1b1b"></div>
<div class="b" style="left:403.3px;top:381.3px;width:3.3px;height:3.3px;background:#e8386b"></div>
<span class="t" style="left:412.00px;top:379.86px;font-size:6.9px;font-weight:400;color:#7a7a7a;transform:scaleX(0.9500);">11</span>
<span class="t" style="left:449.50px;top:378.62px;font-size:8.6px;font-weight:700;color:#e6e6e6;transform:scaleX(0.8300);">0.014 s</span>
<div class="b" style="left:390.6px;top:340.2px;width:3.2px;height:3.2px;border-radius:2px;background:#f6d6e2"></div>
<svg style="left:391px;top:237px" width="7" height="10.5" viewBox="0 0 8 12"><path d="M0.5 0.5 V9.5 L2.7 7.5 L4.2 11 L5.6 10.4 L4.1 7 H7 Z" fill="#fff" stroke="#222" stroke-width="0.6"/></svg>
<div class="b" style="left:46.2px;top:383.2px;width:62px;height:17.5px;background:#3b9fd8"></div>
<span class="t" style="left:55.00px;top:388.18px;font-size:9px;font-weight:400;color:#0a0a0a;transform:scaleX(0.9004);-webkit-text-stroke:0.3px #0a0a0a;">Add counter</span>
<svg style="left:10px;top:73.6px" width="10" height="10" viewBox="0 0 10 10"><circle cx="6" cy="3.8" r="3" fill="none" stroke="#f2f2f2" stroke-width="1.1"/><path d="M3.8 6 L0.7 9.3" stroke="#f2f2f2" stroke-width="1.2"/></svg>
<svg style="left:11.5px;top:94.3px" width="6" height="9" viewBox="0 0 6 9"><rect x="0.7" y="0.6" width="4.8" height="7.8" fill="#2a1a2a" stroke="#f2f2f2" stroke-width="1.2"/><rect x="3.4" y="1.4" width="1.5" height="2.6" fill="#d03060"/><rect x="3.4" y="4" width="1.5" height="3.4" fill="#3a62c8"/></svg>
<svg style="left:9.5px;top:114.7px" width="10" height="8" viewBox="0 0 10 8"><path d="M4.6 0.5 L0.3 7.5 H3 L5 3.8 L6.6 6 L4.2 7.5 H9.7 Z" fill="#f2f2f2"/></svg>
<svg style="left:9.5px;top:134.1px" width="10" height="9" viewBox="0 0 10 9"><path d="M2 8.3 H7.6 A1.9 1.9 0 0 0 7.8 4.6 A2.6 2.6 0 0 0 3 3.6 A2.3 2.3 0 0 0 2 8.3 Z M3.5 3 A2.4 2.4 0 0 1 8 2.2" fill="none" stroke="#f2f2f2" stroke-width="1"/></svg>
<svg style="left:9.5px;top:154.0px" width="10" height="9" viewBox="0 0 10 9"><path d="M2.2 5.2 A2.1 2.1 0 0 1 2.6 1.6 A2.8 2.8 0 0 1 7.6 1.8 A1.9 1.9 0 0 1 7.8 5.2 H2.2 Z" fill="none" stroke="#f2f2f2" stroke-width="1"/><rect x="3.6" y="4.6" width="2.8" height="4" fill="#f2f2f2"/></svg>
<svg style="left:9.5px;top:173.9px" width="10" height="9" viewBox="0 0 10 9"><rect x="0.6" y="0.6" width="6" height="5" fill="none" stroke="#f2f2f2" stroke-width="1"/><rect x="3.2" y="3.6" width="6" height="4.8" fill="#333" stroke="#f2f2f2" stroke-width="1"/><rect x="1.6" y="1.6" width="2" height="2" fill="#3a62c8"/><rect x="5" y="5.6" width="3" height="1.6" fill="#c03040"/></svg>
<svg style="left:9.5px;top:194.3px" width="10" height="8" viewBox="0 0 10 8"><rect x="0.6" y="0.6" width="6.4" height="4.4" fill="none" stroke="#f2f2f2" stroke-width="1.1"/><rect x="3.6" y="3.4" width="5.8" height="4" fill="#ddd" stroke="#f2f2f2" stroke-width="1"/><rect x="5" y="5" width="3" height="1.2" fill="#c03040"/></svg>
<svg style="left:10.5px;top:213.7px" width="8" height="9" viewBox="0 0 8 9"><rect x="0.6" y="0.6" width="6.8" height="7.8" fill="none" stroke="#f2f2f2" stroke-width="1.1"/><path d="M2.4 2.6 H6 M2.4 4.5 H6 M2.4 6.4 H6" stroke="#f2f2f2" stroke-width="0.8"/><rect x="1" y="1" width="1.4" height="7" fill="#7a4ac0"/></svg>
<svg style="left:9.5px;top:234.1px" width="10" height="8" viewBox="0 0 10 8"><path d="M0.6 7.4 V0.6 H4.5 V2 H9.4 V7.4 Z" fill="none" stroke="#f2f2f2" stroke-width="1.1"/><rect x="1.6" y="3.6" width="6.8" height="2.4" fill="#f2f2f2"/><rect x="1.4" y="6.2" width="2" height="1" fill="#c03040"/></svg>
<svg style="left:9.5px;top:253.8px" width="10" height="8.4" viewBox="0 0 10 8.4"><rect x="0.6" y="0.6" width="8.8" height="7.2" fill="none" stroke="#f2f2f2" stroke-width="1.1"/><path d="M0.6 3 H9.4 M0.6 5.4 H9.4 M3.6 0.6 V7.8 M6.6 0.6 V7.8" stroke="#f2f2f2" stroke-width="0.8"/><rect x="1.2" y="3.4" width="2" height="1.6" fill="#c03040"/><rect x="4" y="1" width="2.4" height="1.6" fill="#5a6ad0"/></svg>
<svg style="left:9.5px;top:273.9px" width="10" height="8" viewBox="0 0 10 8"><path d="M3.4 1.2 H9.6 M3.4 4 H9.6 M3.4 6.8 H8" stroke="#f2f2f2" stroke-width="1.1"/><rect x="0.4" y="0.3" width="1.8" height="1.8" fill="#c03040"/><rect x="0.4" y="3.1" width="1.8" height="1.8" fill="#c03040"/><rect x="0.4" y="5.9" width="1.8" height="1.8" fill="#7a4ac0"/></svg>
<svg style="left:9.5px;top:293.3px" width="10" height="9" viewBox="0 0 10 9"><circle cx="3.4" cy="2.6" r="2" fill="none" stroke="#f2f2f2" stroke-width="1"/><path d="M0.5 8.5 A3.2 3.2 0 0 1 5.4 5.6" fill="none" stroke="#f2f2f2" stroke-width="1"/><circle cx="7.4" cy="6.4" r="1.9" fill="none" stroke="#f2f2f2" stroke-width="1"/></svg>
<svg style="left:9.5px;top:313.7px" width="10" height="8" viewBox="0 0 10 8"><path d="M0.8 2.6 H6.4 M4.6 0.6 L6.8 2.6 L4.6 4.6 M6.6 3.4 L8.8 6.6 M5.4 6.8 H9 V3.8" fill="none" stroke="#f2f2f2" stroke-width="1"/></svg>
<svg style="left:9.3px;top:333.5px" width="10.4" height="8.2" viewBox="0 0 10.4 8.2"><rect x="0.6" y="0.6" width="9.2" height="7" fill="#32101a" stroke="#f2f2f2" stroke-width="1.1"/><path d="M2 2.4 L4.4 5 L6 3.6 L8.4 6.2" fill="none" stroke="#f2f2f2" stroke-width="0.9"/></svg>
<div class="b" style="left:-6px;top:346.5px;width:8.3px;height:20.5px;background:#4a9fdc"></div>
<svg style="left:9.9px;top:352.9px" width="9.2" height="9.2" viewBox="0 0 9.2 9.2"><circle cx="4.6" cy="4.6" r="3.9" fill="none" stroke="#2f8fdc" stroke-width="1.2"/><path d="M4.6 4.8 L7 2.6" stroke="#2f8fdc" stroke-width="1.1"/><path d="M2 6 A3 3 0 0 1 4 2" fill="none" stroke="#2f8fdc" stroke-width="0.9"/></svg>
<svg style="left:9.3px;top:373.2px" width="10.4" height="8.4" viewBox="0 0 10.4 8.4"><rect x="0.6" y="0.6" width="9.2" height="7.2" fill="#32101a" stroke="#f2f2f2" stroke-width="1.1"/><path d="M2.2 2.4 L4.4 4.2 L2.2 6 M5 6.2 H8" fill="none" stroke="#f2f2f2" stroke-width="0.9"/></svg>
<svg style="left:9.3px;top:393.0px" width="10.4" height="8.6" viewBox="0 0 10.4 8.6"><rect x="0.6" y="0.6" width="9" height="7" fill="none" stroke="#f2f2f2" stroke-width="1.1"/><path d="M0.6 2.4 H9.6" stroke="#f2f2f2" stroke-width="0.9"/><rect x="1.8" y="3.6" width="3" height="2.6" fill="#f2f2f2"/><circle cx="7.6" cy="6.6" r="1.6" fill="#222" stroke="#f2f2f2" stroke-width="0.8"/></svg>
<svg style="left:9.5px;top:413.2px" width="10" height="8" viewBox="0 0 10 8"><path d="M1 8 V5 H3 V8 M4 8 V2.5 H6 V8 M7 8 V0.5 H9 V8" fill="#f2f2f2" stroke="none"/><rect x="4" y="2.5" width="2" height="2" fill="#b040c0"/></svg>
</div></body></html>
